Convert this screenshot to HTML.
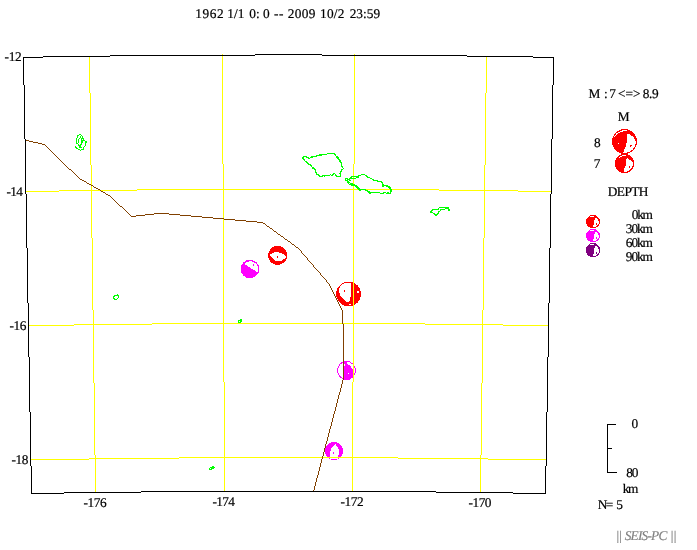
<!DOCTYPE html>
<html lang="en"><head><meta charset="utf-8"><title>SEIS-PC</title>
<style>
html,body{margin:0;padding:0;background:#fff;}
body{width:697px;height:550px;overflow:hidden;}
svg{display:block;}
</style></head><body>
<svg width="697" height="550" viewBox="0 0 697 550" shape-rendering="crispEdges">
<rect width="697" height="550" fill="#fff"/>
<circle cx="250" cy="269" r="9.2" fill="#ff00ff"/>
<polygon fill="#fff" points="244.43,263.91 244.71,263.61 245.01,263.33 245.33,263.06 245.66,262.81 246,262.57 246.35,262.36 246.71,262.16 247.09,261.98 247.47,261.82 247.86,261.69 248.26,261.57 248.66,261.47 249.06,261.4 249.47,261.34 249.89,261.31 250.3,261.3 250.71,261.31 251.13,261.34 251.54,261.4 251.94,261.47 252.34,261.57 252.74,261.69 253.13,261.82 253.51,261.98 253.89,262.16 254.25,262.36 254.6,262.57 254.94,262.81 255.27,263.06 255.59,263.33 255.89,263.61 256.17,263.91 256.44,264.23 256.69,264.56 256.93,264.9 257.14,265.25 257.34,265.61 257.52,265.99 257.68,266.37 257.81,266.76 257.93,267.16 258.03,267.56 258.1,267.96 258.16,268.37 258.19,268.79 258.2,269.2 258.19,269.61 258.16,270.03 258.1,270.44 258.03,270.84 257.93,271.24 257.81,271.64 257.68,272.03 257.52,272.41"/>
<rect x="253" y="264" width="1" height="2" fill="#ff00ff"/>
<circle cx="277.6" cy="255.4" r="9.6" fill="#ff0000"/>
<polygon fill="#fff" points="269.8,254.6 272,253.3 275,252.2 278.1,252.2 281.6,253.3 284.2,254.4 286.2,256.8 284.2,258.9 281.8,260.9 275.9,260.9 269.8,255.4"/>
<rect x="277" y="256" width="1" height="2" fill="#ff0000"/>
<circle cx="348.6" cy="294" r="12.4" fill="#ff0000"/>
<polygon fill="#fff" points="346.1,283.1 350.8,283.1 351,296.5 349.9,298.1 349.4,301.9 346.4,301.9 343.9,299.8 341.7,297.6 339.8,294.3 338.7,289.9 339.8,286.7 341.7,284.5 343.9,283.6"/>
<rect x="344" y="290" width="1" height="2" fill="#ff0000"/>
<rect x="357" y="291" width="2" height="2" fill="#fff"/>
<rect x="349" y="304" width="2" height="1" fill="#fff"/>
<circle cx="346.5" cy="370.4" r="9" fill="#fff" stroke="#ff00ff" stroke-width="1"/>
<polygon fill="#ff00ff" points="344,361 347,361 347,363.1 349.7,365.6 352.3,368.5 353,371.8 353,377.6 349,379.9 344,379.9"/>
<rect x="348" y="373" width="1" height="1" fill="#fff"/>
<rect x="344" y="364" width="1" height="2" fill="#fff"/>
<circle cx="334" cy="451" r="9.1" fill="#ff00ff"/>
<polygon fill="#fff" points="335.4,444 338,447.6 339.1,450.9 338.7,454.5 337.6,457.1 338,459 330.7,459 329.6,457.1 330,453.8 330.7,449.4 332.5,446.5"/>
<rect x="333" y="452" width="1" height="2" fill="#ff00ff"/>
<path fill="#ffff00" d="M222 54h1v1h-1zM354 54h1v1h-1zM222 55h1v1h-1zM354 55h1v1h-1zM89 56h1v1h-1zM222 56h1v1h-1zM354 56h1v1h-1zM486 56h1v1h-1zM89 57h1v1h-1zM222 57h1v1h-1zM354 57h1v1h-1zM486 57h1v1h-1zM89 58h1v1h-1zM222 58h1v1h-1zM354 58h1v1h-1zM486 58h1v1h-1zM89 59h1v1h-1zM222 59h1v1h-1zM354 59h1v1h-1zM486 59h1v1h-1zM89 60h1v1h-1zM222 60h1v1h-1zM354 60h1v1h-1zM486 60h1v1h-1zM89 61h1v1h-1zM222 61h1v1h-1zM354 61h1v1h-1zM486 61h1v1h-1zM89 62h1v1h-1zM222 62h1v1h-1zM354 62h1v1h-1zM486 62h1v1h-1zM89 63h1v1h-1zM222 63h1v1h-1zM354 63h1v1h-1zM486 63h1v1h-1zM89 64h1v1h-1zM222 64h1v1h-1zM354 64h1v1h-1zM486 64h1v1h-1zM89 65h1v1h-1zM222 65h1v1h-1zM354 65h1v1h-1zM486 65h1v1h-1zM89 66h1v1h-1zM222 66h1v1h-1zM354 66h1v1h-1zM486 66h1v1h-1zM89 67h1v1h-1zM222 67h1v1h-1zM354 67h1v1h-1zM486 67h1v1h-1zM89 68h1v1h-1zM222 68h1v1h-1zM354 68h1v1h-1zM486 68h1v1h-1zM89 69h1v1h-1zM222 69h1v1h-1zM354 69h1v1h-1zM486 69h1v1h-1zM89 70h1v1h-1zM222 70h1v1h-1zM354 70h1v1h-1zM486 70h1v1h-1zM89 71h1v1h-1zM222 71h1v1h-1zM354 71h1v1h-1zM486 71h1v1h-1zM89 72h1v1h-1zM222 72h1v1h-1zM354 72h1v1h-1zM486 72h1v1h-1zM89 73h1v1h-1zM222 73h1v1h-1zM354 73h1v1h-1zM486 73h1v1h-1zM89 74h1v1h-1zM222 74h1v1h-1zM354 74h1v1h-1zM486 74h1v1h-1zM89 75h1v1h-1zM222 75h1v1h-1zM354 75h1v1h-1zM486 75h1v1h-1zM89 76h1v1h-1zM222 76h1v1h-1zM354 76h1v1h-1zM486 76h1v1h-1zM89 77h1v1h-1zM222 77h1v1h-1zM354 77h1v1h-1zM486 77h1v1h-1zM89 78h1v1h-1zM222 78h1v1h-1zM354 78h1v1h-1zM486 78h1v1h-1zM89 79h1v1h-1zM222 79h1v1h-1zM354 79h1v1h-1zM486 79h1v1h-1zM89 80h1v1h-1zM222 80h1v1h-1zM354 80h1v1h-1zM486 80h1v1h-1zM89 81h1v1h-1zM222 81h1v1h-1zM354 81h1v1h-1zM486 81h1v1h-1zM89 82h1v1h-1zM222 82h1v1h-1zM354 82h1v1h-1zM486 82h1v1h-1zM89 83h1v1h-1zM222 83h1v1h-1zM354 83h1v1h-1zM486 83h1v1h-1zM89 84h1v1h-1zM222 84h1v1h-1zM354 84h1v1h-1zM486 84h1v1h-1zM89 85h1v1h-1zM222 85h1v1h-1zM354 85h1v1h-1zM486 85h1v1h-1zM89 86h1v1h-1zM222 86h1v1h-1zM354 86h1v1h-1zM486 86h1v1h-1zM89 87h1v1h-1zM222 87h1v1h-1zM354 87h1v1h-1zM486 87h1v1h-1zM89 88h1v1h-1zM222 88h1v1h-1zM354 88h1v1h-1zM486 88h1v1h-1zM89 89h1v1h-1zM222 89h1v1h-1zM354 89h1v1h-1zM486 89h1v1h-1zM89 90h1v1h-1zM222 90h1v1h-1zM354 90h1v1h-1zM486 90h1v1h-1zM89 91h1v1h-1zM222 91h1v1h-1zM354 91h1v1h-1zM486 91h1v1h-1zM89 92h1v1h-1zM222 92h1v1h-1zM354 92h1v1h-1zM486 92h1v1h-1zM90 93h1v1h-1zM222 93h1v1h-1zM354 93h1v1h-1zM485 93h1v1h-1zM90 94h1v1h-1zM222 94h1v1h-1zM354 94h1v1h-1zM485 94h1v1h-1zM90 95h1v1h-1zM222 95h1v1h-1zM354 95h1v1h-1zM485 95h1v1h-1zM90 96h1v1h-1zM222 96h1v1h-1zM354 96h1v1h-1zM485 96h1v1h-1zM90 97h1v1h-1zM222 97h1v1h-1zM354 97h1v1h-1zM485 97h1v1h-1zM90 98h1v1h-1zM222 98h1v1h-1zM354 98h1v1h-1zM485 98h1v1h-1zM90 99h1v1h-1zM222 99h1v1h-1zM354 99h1v1h-1zM485 99h1v1h-1zM90 100h1v1h-1zM222 100h1v1h-1zM354 100h1v1h-1zM485 100h1v1h-1zM90 101h1v1h-1zM222 101h1v1h-1zM354 101h1v1h-1zM485 101h1v1h-1zM90 102h1v1h-1zM222 102h1v1h-1zM354 102h1v1h-1zM485 102h1v1h-1zM90 103h1v1h-1zM222 103h1v1h-1zM354 103h1v1h-1zM485 103h1v1h-1zM90 104h1v1h-1zM222 104h1v1h-1zM354 104h1v1h-1zM485 104h1v1h-1zM90 105h1v1h-1zM222 105h1v1h-1zM354 105h1v1h-1zM485 105h1v1h-1zM90 106h1v1h-1zM222 106h1v1h-1zM354 106h1v1h-1zM485 106h1v1h-1zM90 107h1v1h-1zM222 107h1v1h-1zM354 107h1v1h-1zM485 107h1v1h-1zM90 108h1v1h-1zM222 108h1v1h-1zM354 108h1v1h-1zM485 108h1v1h-1zM90 109h1v1h-1zM222 109h1v1h-1zM354 109h1v1h-1zM485 109h1v1h-1zM90 110h1v1h-1zM222 110h1v1h-1zM354 110h1v1h-1zM485 110h1v1h-1zM90 111h1v1h-1zM222 111h1v1h-1zM354 111h1v1h-1zM485 111h1v1h-1zM90 112h1v1h-1zM222 112h1v1h-1zM354 112h1v1h-1zM485 112h1v1h-1zM90 113h1v1h-1zM222 113h1v1h-1zM354 113h1v1h-1zM485 113h1v1h-1zM90 114h1v1h-1zM222 114h1v1h-1zM354 114h1v1h-1zM485 114h1v1h-1zM90 115h1v1h-1zM222 115h1v1h-1zM354 115h1v1h-1zM485 115h1v1h-1zM90 116h1v1h-1zM222 116h1v1h-1zM354 116h1v1h-1zM485 116h1v1h-1zM90 117h1v1h-1zM222 117h1v1h-1zM354 117h1v1h-1zM485 117h1v1h-1zM90 118h1v1h-1zM222 118h1v1h-1zM354 118h1v1h-1zM485 118h1v1h-1zM90 119h1v1h-1zM222 119h1v1h-1zM354 119h1v1h-1zM485 119h1v1h-1zM90 120h1v1h-1zM222 120h1v1h-1zM354 120h1v1h-1zM485 120h1v1h-1zM90 121h1v1h-1zM222 121h1v1h-1zM354 121h1v1h-1zM485 121h1v1h-1zM90 122h1v1h-1zM222 122h1v1h-1zM354 122h1v1h-1zM485 122h1v1h-1zM90 123h1v1h-1zM222 123h1v1h-1zM354 123h1v1h-1zM485 123h1v1h-1zM90 124h1v1h-1zM222 124h1v1h-1zM354 124h1v1h-1zM485 124h1v1h-1zM90 125h1v1h-1zM222 125h1v1h-1zM354 125h1v1h-1zM485 125h1v1h-1zM90 126h1v1h-1zM222 126h1v1h-1zM354 126h1v1h-1zM485 126h1v1h-1zM90 127h1v1h-1zM222 127h1v1h-1zM354 127h1v1h-1zM485 127h1v1h-1zM90 128h1v1h-1zM222 128h1v1h-1zM354 128h1v1h-1zM485 128h1v1h-1zM90 129h1v1h-1zM222 129h1v1h-1zM354 129h1v1h-1zM485 129h1v1h-1zM90 130h1v1h-1zM222 130h1v1h-1zM354 130h1v1h-1zM485 130h1v1h-1zM90 131h1v1h-1zM222 131h1v1h-1zM354 131h1v1h-1zM485 131h1v1h-1zM90 132h1v1h-1zM222 132h1v1h-1zM354 132h1v1h-1zM485 132h1v1h-1zM90 133h1v1h-1zM222 133h1v1h-1zM354 133h1v1h-1zM485 133h1v1h-1zM90 134h1v1h-1zM222 134h1v1h-1zM354 134h1v1h-1zM485 134h1v1h-1zM90 135h1v1h-1zM222 135h1v1h-1zM354 135h1v1h-1zM485 135h1v1h-1zM90 136h1v1h-1zM222 136h1v1h-1zM354 136h1v1h-1zM485 136h1v1h-1zM90 137h1v1h-1zM222 137h1v1h-1zM354 137h1v1h-1zM485 137h1v1h-1zM90 138h1v1h-1zM222 138h1v1h-1zM354 138h1v1h-1zM485 138h1v1h-1zM90 139h1v1h-1zM222 139h1v1h-1zM354 139h1v1h-1zM485 139h1v1h-1zM90 140h1v1h-1zM222 140h1v1h-1zM354 140h1v1h-1zM485 140h1v1h-1zM90 141h1v1h-1zM222 141h1v1h-1zM354 141h1v1h-1zM485 141h1v1h-1zM90 142h1v1h-1zM222 142h1v1h-1zM354 142h1v1h-1zM485 142h1v1h-1zM90 143h1v1h-1zM222 143h1v1h-1zM354 143h1v1h-1zM485 143h1v1h-1zM90 144h1v1h-1zM222 144h1v1h-1zM354 144h1v1h-1zM485 144h1v1h-1zM90 145h1v1h-1zM222 145h1v1h-1zM354 145h1v1h-1zM485 145h1v1h-1zM90 146h1v1h-1zM222 146h1v1h-1zM354 146h1v1h-1zM485 146h1v1h-1zM90 147h1v1h-1zM222 147h1v1h-1zM354 147h1v1h-1zM485 147h1v1h-1zM90 148h1v1h-1zM222 148h1v1h-1zM354 148h1v1h-1zM485 148h1v1h-1zM90 149h1v1h-1zM222 149h1v1h-1zM354 149h1v1h-1zM485 149h1v1h-1zM90 150h1v1h-1zM222 150h1v1h-1zM354 150h1v1h-1zM485 150h1v1h-1zM90 151h1v1h-1zM222 151h1v1h-1zM354 151h1v1h-1zM485 151h1v1h-1zM90 152h1v1h-1zM222 152h1v1h-1zM354 152h1v1h-1zM485 152h1v1h-1zM90 153h1v1h-1zM222 153h1v1h-1zM354 153h1v1h-1zM485 153h1v1h-1zM90 154h1v1h-1zM222 154h1v1h-1zM354 154h1v1h-1zM485 154h1v1h-1zM90 155h1v1h-1zM222 155h1v1h-1zM354 155h1v1h-1zM485 155h1v1h-1zM90 156h1v1h-1zM222 156h1v1h-1zM354 156h1v1h-1zM485 156h1v1h-1zM90 157h1v1h-1zM222 157h1v1h-1zM354 157h1v1h-1zM485 157h1v1h-1zM90 158h1v1h-1zM222 158h1v1h-1zM354 158h1v1h-1zM485 158h1v1h-1zM90 159h1v1h-1zM222 159h1v1h-1zM354 159h1v1h-1zM485 159h1v1h-1zM90 160h1v1h-1zM222 160h1v1h-1zM354 160h1v1h-1zM485 160h1v1h-1zM90 161h1v1h-1zM222 161h1v1h-1zM354 161h1v1h-1zM485 161h1v1h-1zM90 162h1v1h-1zM222 162h1v1h-1zM354 162h1v1h-1zM485 162h1v1h-1zM90 163h1v1h-1zM222 163h1v1h-1zM354 163h1v1h-1zM485 163h1v1h-1zM90 164h1v1h-1zM223 164h1v1h-1zM353 164h1v1h-1zM485 164h1v1h-1zM91 165h1v1h-1zM223 165h1v1h-1zM353 165h1v1h-1zM484 165h1v1h-1zM91 166h1v1h-1zM223 166h1v1h-1zM353 166h1v1h-1zM484 166h1v1h-1zM91 167h1v1h-1zM223 167h1v1h-1zM353 167h1v1h-1zM484 167h1v1h-1zM91 168h1v1h-1zM223 168h1v1h-1zM353 168h1v1h-1zM484 168h1v1h-1zM91 169h1v1h-1zM223 169h1v1h-1zM353 169h1v1h-1zM484 169h1v1h-1zM91 170h1v1h-1zM223 170h1v1h-1zM353 170h1v1h-1zM484 170h1v1h-1zM91 171h1v1h-1zM223 171h1v1h-1zM353 171h1v1h-1zM484 171h1v1h-1zM91 172h1v1h-1zM223 172h1v1h-1zM353 172h1v1h-1zM484 172h1v1h-1zM91 173h1v1h-1zM223 173h1v1h-1zM353 173h1v1h-1zM484 173h1v1h-1zM91 174h1v1h-1zM223 174h1v1h-1zM353 174h1v1h-1zM484 174h1v1h-1zM91 175h1v1h-1zM223 175h1v1h-1zM353 175h1v1h-1zM484 175h1v1h-1zM91 176h1v1h-1zM223 176h1v1h-1zM353 176h1v1h-1zM484 176h1v1h-1zM91 177h1v1h-1zM223 177h1v1h-1zM353 177h1v1h-1zM484 177h1v1h-1zM91 178h1v1h-1zM223 178h1v1h-1zM353 178h1v1h-1zM484 178h1v1h-1zM91 179h1v1h-1zM223 179h1v1h-1zM353 179h1v1h-1zM484 179h1v1h-1zM91 180h1v1h-1zM223 180h1v1h-1zM353 180h1v1h-1zM484 180h1v1h-1zM91 181h1v1h-1zM223 181h1v1h-1zM353 181h1v1h-1zM484 181h1v1h-1zM91 182h1v1h-1zM223 182h1v1h-1zM353 182h1v1h-1zM484 182h1v1h-1zM91 183h1v1h-1zM223 183h1v1h-1zM353 183h1v1h-1zM484 183h1v1h-1zM91 184h1v1h-1zM223 184h1v1h-1zM353 184h1v1h-1zM484 184h1v1h-1zM91 185h1v1h-1zM223 185h1v1h-1zM353 185h1v1h-1zM484 185h1v1h-1zM91 186h1v1h-1zM223 186h1v1h-1zM353 186h1v1h-1zM484 186h1v1h-1zM91 187h1v1h-1zM223 187h1v1h-1zM353 187h1v1h-1zM484 187h1v1h-1zM91 188h1v1h-1zM223 188h1v1h-1zM353 188h1v1h-1zM484 188h1v1h-1zM91 189h1v1h-1zM137 189h302v1h-302zM484 189h1v1h-1zM59 190h78v1h-78zM223 190h1v1h-1zM353 190h1v1h-1zM439 190h79v1h-79zM26 191h33v1h-33zM91 191h1v1h-1zM223 191h1v1h-1zM353 191h1v1h-1zM484 191h1v1h-1zM518 191h33v1h-33zM91 192h1v1h-1zM223 192h1v1h-1zM353 192h1v1h-1zM484 192h1v1h-1zM91 193h1v1h-1zM223 193h1v1h-1zM353 193h1v1h-1zM484 193h1v1h-1zM91 194h1v1h-1zM223 194h1v1h-1zM353 194h1v1h-1zM484 194h1v1h-1zM91 195h1v1h-1zM223 195h1v1h-1zM353 195h1v1h-1zM484 195h1v1h-1zM91 196h1v1h-1zM223 196h1v1h-1zM353 196h1v1h-1zM484 196h1v1h-1zM91 197h1v1h-1zM223 197h1v1h-1zM353 197h1v1h-1zM484 197h1v1h-1zM91 198h1v1h-1zM223 198h1v1h-1zM353 198h1v1h-1zM484 198h1v1h-1zM91 199h1v1h-1zM223 199h1v1h-1zM353 199h1v1h-1zM484 199h1v1h-1zM91 200h1v1h-1zM223 200h1v1h-1zM353 200h1v1h-1zM484 200h1v1h-1zM91 201h1v1h-1zM223 201h1v1h-1zM353 201h1v1h-1zM484 201h1v1h-1zM91 202h1v1h-1zM223 202h1v1h-1zM353 202h1v1h-1zM484 202h1v1h-1zM91 203h1v1h-1zM223 203h1v1h-1zM353 203h1v1h-1zM484 203h1v1h-1zM91 204h1v1h-1zM223 204h1v1h-1zM353 204h1v1h-1zM484 204h1v1h-1zM91 205h1v1h-1zM223 205h1v1h-1zM353 205h1v1h-1zM484 205h1v1h-1zM91 206h1v1h-1zM223 206h1v1h-1zM353 206h1v1h-1zM484 206h1v1h-1zM91 207h1v1h-1zM223 207h1v1h-1zM353 207h1v1h-1zM484 207h1v1h-1zM91 208h1v1h-1zM223 208h1v1h-1zM353 208h1v1h-1zM484 208h1v1h-1zM91 209h1v1h-1zM223 209h1v1h-1zM353 209h1v1h-1zM484 209h1v1h-1zM91 210h1v1h-1zM223 210h1v1h-1zM353 210h1v1h-1zM484 210h1v1h-1zM91 211h1v1h-1zM223 211h1v1h-1zM353 211h1v1h-1zM484 211h1v1h-1zM91 212h1v1h-1zM223 212h1v1h-1zM353 212h1v1h-1zM484 212h1v1h-1zM91 213h1v1h-1zM223 213h1v1h-1zM353 213h1v1h-1zM484 213h1v1h-1zM91 214h1v1h-1zM223 214h1v1h-1zM353 214h1v1h-1zM484 214h1v1h-1zM91 215h1v1h-1zM223 215h1v1h-1zM353 215h1v1h-1zM484 215h1v1h-1zM91 216h1v1h-1zM223 216h1v1h-1zM353 216h1v1h-1zM484 216h1v1h-1zM91 217h1v1h-1zM223 217h1v1h-1zM353 217h1v1h-1zM484 217h1v1h-1zM91 218h1v1h-1zM223 218h1v1h-1zM353 218h1v1h-1zM484 218h1v1h-1zM91 219h1v1h-1zM223 219h1v1h-1zM353 219h1v1h-1zM484 219h1v1h-1zM91 220h1v1h-1zM223 220h1v1h-1zM353 220h1v1h-1zM484 220h1v1h-1zM91 221h1v1h-1zM223 221h1v1h-1zM353 221h1v1h-1zM484 221h1v1h-1zM91 222h1v1h-1zM223 222h1v1h-1zM353 222h1v1h-1zM484 222h1v1h-1zM91 223h1v1h-1zM223 223h1v1h-1zM353 223h1v1h-1zM484 223h1v1h-1zM91 224h1v1h-1zM223 224h1v1h-1zM353 224h1v1h-1zM484 224h1v1h-1zM91 225h1v1h-1zM223 225h1v1h-1zM353 225h1v1h-1zM484 225h1v1h-1zM91 226h1v1h-1zM223 226h1v1h-1zM353 226h1v1h-1zM484 226h1v1h-1zM91 227h1v1h-1zM223 227h1v1h-1zM353 227h1v1h-1zM484 227h1v1h-1zM91 228h1v1h-1zM223 228h1v1h-1zM353 228h1v1h-1zM484 228h1v1h-1zM91 229h1v1h-1zM223 229h1v1h-1zM353 229h1v1h-1zM484 229h1v1h-1zM91 230h1v1h-1zM223 230h1v1h-1zM353 230h1v1h-1zM484 230h1v1h-1zM91 231h1v1h-1zM223 231h1v1h-1zM353 231h1v1h-1zM484 231h1v1h-1zM91 232h1v1h-1zM223 232h1v1h-1zM353 232h1v1h-1zM484 232h1v1h-1zM91 233h1v1h-1zM223 233h1v1h-1zM353 233h1v1h-1zM484 233h1v1h-1zM91 234h1v1h-1zM223 234h1v1h-1zM353 234h1v1h-1zM484 234h1v1h-1zM91 235h1v1h-1zM223 235h1v1h-1zM353 235h1v1h-1zM484 235h1v1h-1zM91 236h1v1h-1zM223 236h1v1h-1zM353 236h1v1h-1zM484 236h1v1h-1zM91 237h1v1h-1zM223 237h1v1h-1zM353 237h1v1h-1zM484 237h1v1h-1zM92 238h1v1h-1zM223 238h1v1h-1zM353 238h1v1h-1zM483 238h1v1h-1zM92 239h1v1h-1zM223 239h1v1h-1zM353 239h1v1h-1zM483 239h1v1h-1zM92 240h1v1h-1zM223 240h1v1h-1zM353 240h1v1h-1zM483 240h1v1h-1zM92 241h1v1h-1zM223 241h1v1h-1zM353 241h1v1h-1zM483 241h1v1h-1zM92 242h1v1h-1zM223 242h1v1h-1zM353 242h1v1h-1zM483 242h1v1h-1zM92 243h1v1h-1zM223 243h1v1h-1zM353 243h1v1h-1zM483 243h1v1h-1zM92 244h1v1h-1zM223 244h1v1h-1zM353 244h1v1h-1zM483 244h1v1h-1zM92 245h1v1h-1zM223 245h1v1h-1zM353 245h1v1h-1zM483 245h1v1h-1zM92 246h1v1h-1zM223 246h1v1h-1zM353 246h1v1h-1zM483 246h1v1h-1zM92 247h1v1h-1zM223 247h1v1h-1zM353 247h1v1h-1zM483 247h1v1h-1zM92 248h1v1h-1zM223 248h1v1h-1zM353 248h1v1h-1zM483 248h1v1h-1zM92 249h1v1h-1zM223 249h1v1h-1zM353 249h1v1h-1zM483 249h1v1h-1zM92 250h1v1h-1zM223 250h1v1h-1zM353 250h1v1h-1zM483 250h1v1h-1zM92 251h1v1h-1zM223 251h1v1h-1zM353 251h1v1h-1zM483 251h1v1h-1zM92 252h1v1h-1zM223 252h1v1h-1zM353 252h1v1h-1zM483 252h1v1h-1zM92 253h1v1h-1zM223 253h1v1h-1zM353 253h1v1h-1zM483 253h1v1h-1zM92 254h1v1h-1zM223 254h1v1h-1zM353 254h1v1h-1zM483 254h1v1h-1zM92 255h1v1h-1zM223 255h1v1h-1zM353 255h1v1h-1zM483 255h1v1h-1zM92 256h1v1h-1zM223 256h1v1h-1zM353 256h1v1h-1zM483 256h1v1h-1zM92 257h1v1h-1zM223 257h1v1h-1zM353 257h1v1h-1zM483 257h1v1h-1zM92 258h1v1h-1zM223 258h1v1h-1zM353 258h1v1h-1zM483 258h1v1h-1zM92 259h1v1h-1zM223 259h1v1h-1zM353 259h1v1h-1zM483 259h1v1h-1zM92 260h1v1h-1zM223 260h1v1h-1zM353 260h1v1h-1zM483 260h1v1h-1zM92 261h1v1h-1zM223 261h1v1h-1zM353 261h1v1h-1zM483 261h1v1h-1zM92 262h1v1h-1zM223 262h1v1h-1zM353 262h1v1h-1zM483 262h1v1h-1zM92 263h1v1h-1zM223 263h1v1h-1zM353 263h1v1h-1zM483 263h1v1h-1zM92 264h1v1h-1zM223 264h1v1h-1zM353 264h1v1h-1zM483 264h1v1h-1zM92 265h1v1h-1zM223 265h1v1h-1zM353 265h1v1h-1zM483 265h1v1h-1zM92 266h1v1h-1zM223 266h1v1h-1zM353 266h1v1h-1zM483 266h1v1h-1zM92 267h1v1h-1zM223 267h1v1h-1zM353 267h1v1h-1zM483 267h1v1h-1zM92 268h1v1h-1zM223 268h1v1h-1zM353 268h1v1h-1zM483 268h1v1h-1zM92 269h1v1h-1zM223 269h1v1h-1zM353 269h1v1h-1zM483 269h1v1h-1zM92 270h1v1h-1zM223 270h1v1h-1zM353 270h1v1h-1zM483 270h1v1h-1zM92 271h1v1h-1zM223 271h1v1h-1zM353 271h1v1h-1zM483 271h1v1h-1zM92 272h1v1h-1zM223 272h1v1h-1zM353 272h1v1h-1zM483 272h1v1h-1zM92 273h1v1h-1zM223 273h1v1h-1zM353 273h1v1h-1zM483 273h1v1h-1zM92 274h1v1h-1zM223 274h1v1h-1zM353 274h1v1h-1zM483 274h1v1h-1zM92 275h1v1h-1zM223 275h1v1h-1zM353 275h1v1h-1zM483 275h1v1h-1zM92 276h1v1h-1zM223 276h1v1h-1zM353 276h1v1h-1zM483 276h1v1h-1zM92 277h1v1h-1zM223 277h1v1h-1zM353 277h1v1h-1zM483 277h1v1h-1zM92 278h1v1h-1zM223 278h1v1h-1zM353 278h1v1h-1zM483 278h1v1h-1zM92 279h1v1h-1zM223 279h1v1h-1zM353 279h1v1h-1zM483 279h1v1h-1zM92 280h1v1h-1zM223 280h1v1h-1zM353 280h1v1h-1zM483 280h1v1h-1zM92 281h1v1h-1zM223 281h1v1h-1zM353 281h1v1h-1zM483 281h1v1h-1zM92 282h1v1h-1zM223 282h1v1h-1zM353 282h1v1h-1zM483 282h1v1h-1zM92 283h1v1h-1zM223 283h1v1h-1zM353 283h1v1h-1zM483 283h1v1h-1zM92 284h1v1h-1zM223 284h1v1h-1zM353 284h1v1h-1zM483 284h1v1h-1zM92 285h1v1h-1zM223 285h1v1h-1zM353 285h1v1h-1zM483 285h1v1h-1zM92 286h1v1h-1zM223 286h1v1h-1zM353 286h1v1h-1zM483 286h1v1h-1zM92 287h1v1h-1zM223 287h1v1h-1zM353 287h1v1h-1zM483 287h1v1h-1zM92 288h1v1h-1zM223 288h1v1h-1zM353 288h1v1h-1zM483 288h1v1h-1zM92 289h1v1h-1zM223 289h1v1h-1zM353 289h1v1h-1zM483 289h1v1h-1zM92 290h1v1h-1zM223 290h1v1h-1zM353 290h1v1h-1zM483 290h1v1h-1zM92 291h1v1h-1zM223 291h1v1h-1zM353 291h1v1h-1zM483 291h1v1h-1zM92 292h1v1h-1zM223 292h1v1h-1zM353 292h1v1h-1zM483 292h1v1h-1zM92 293h1v1h-1zM223 293h1v1h-1zM353 293h1v1h-1zM483 293h1v1h-1zM92 294h1v1h-1zM223 294h1v1h-1zM353 294h1v1h-1zM483 294h1v1h-1zM92 295h1v1h-1zM223 295h1v1h-1zM353 295h1v1h-1zM483 295h1v1h-1zM92 296h1v1h-1zM223 296h1v1h-1zM353 296h1v1h-1zM483 296h1v1h-1zM92 297h1v1h-1zM223 297h1v1h-1zM353 297h1v1h-1zM483 297h1v1h-1zM92 298h1v1h-1zM223 298h1v1h-1zM353 298h1v1h-1zM483 298h1v1h-1zM92 299h1v1h-1zM223 299h1v1h-1zM353 299h1v1h-1zM483 299h1v1h-1zM92 300h1v1h-1zM223 300h1v1h-1zM353 300h1v1h-1zM483 300h1v1h-1zM92 301h1v1h-1zM223 301h1v1h-1zM353 301h1v1h-1zM483 301h1v1h-1zM92 302h1v1h-1zM223 302h1v1h-1zM353 302h1v1h-1zM483 302h1v1h-1zM92 303h1v1h-1zM223 303h1v1h-1zM353 303h1v1h-1zM483 303h1v1h-1zM92 304h1v1h-1zM223 304h1v1h-1zM353 304h1v1h-1zM483 304h1v1h-1zM92 305h1v1h-1zM223 305h1v1h-1zM353 305h1v1h-1zM483 305h1v1h-1zM92 306h1v1h-1zM223 306h1v1h-1zM353 306h1v1h-1zM483 306h1v1h-1zM92 307h1v1h-1zM223 307h1v1h-1zM353 307h1v1h-1zM483 307h1v1h-1zM92 308h1v1h-1zM223 308h1v1h-1zM353 308h1v1h-1zM483 308h1v1h-1zM92 309h1v1h-1zM223 309h1v1h-1zM353 309h1v1h-1zM483 309h1v1h-1zM93 310h1v1h-1zM223 310h1v1h-1zM353 310h1v1h-1zM482 310h1v1h-1zM93 311h1v1h-1zM223 311h1v1h-1zM353 311h1v1h-1zM482 311h1v1h-1zM93 312h1v1h-1zM223 312h1v1h-1zM353 312h1v1h-1zM482 312h1v1h-1zM93 313h1v1h-1zM223 313h1v1h-1zM353 313h1v1h-1zM482 313h1v1h-1zM93 314h1v1h-1zM223 314h1v1h-1zM353 314h1v1h-1zM482 314h1v1h-1zM93 315h1v1h-1zM223 315h1v1h-1zM353 315h1v1h-1zM482 315h1v1h-1zM93 316h1v1h-1zM223 316h1v1h-1zM353 316h1v1h-1zM482 316h1v1h-1zM93 317h1v1h-1zM223 317h1v1h-1zM353 317h1v1h-1zM482 317h1v1h-1zM93 318h1v1h-1zM223 318h1v1h-1zM353 318h1v1h-1zM482 318h1v1h-1zM93 319h1v1h-1zM223 319h1v1h-1zM353 319h1v1h-1zM482 319h1v1h-1zM93 320h1v1h-1zM223 320h1v1h-1zM353 320h1v1h-1zM482 320h1v1h-1zM93 321h1v1h-1zM223 321h1v1h-1zM353 321h1v1h-1zM482 321h1v1h-1zM93 322h1v1h-1zM223 322h1v1h-1zM353 322h1v1h-1zM482 322h1v1h-1zM93 323h1v1h-1zM152 323h273v1h-273zM482 323h1v1h-1zM74 324h78v1h-78zM223 324h1v1h-1zM353 324h1v1h-1zM425 324h78v1h-78zM28 325h46v1h-46zM93 325h1v1h-1zM223 325h1v1h-1zM353 325h1v1h-1zM482 325h1v1h-1zM503 325h46v1h-46zM93 326h1v1h-1zM223 326h1v1h-1zM353 326h1v1h-1zM482 326h1v1h-1zM93 327h1v1h-1zM223 327h1v1h-1zM353 327h1v1h-1zM482 327h1v1h-1zM93 328h1v1h-1zM223 328h1v1h-1zM353 328h1v1h-1zM482 328h1v1h-1zM93 329h1v1h-1zM223 329h1v1h-1zM353 329h1v1h-1zM482 329h1v1h-1zM93 330h1v1h-1zM223 330h1v1h-1zM353 330h1v1h-1zM482 330h1v1h-1zM93 331h1v1h-1zM223 331h1v1h-1zM353 331h1v1h-1zM482 331h1v1h-1zM93 332h1v1h-1zM223 332h1v1h-1zM353 332h1v1h-1zM482 332h1v1h-1zM93 333h1v1h-1zM223 333h1v1h-1zM353 333h1v1h-1zM482 333h1v1h-1zM93 334h1v1h-1zM223 334h1v1h-1zM353 334h1v1h-1zM482 334h1v1h-1zM93 335h1v1h-1zM223 335h1v1h-1zM353 335h1v1h-1zM482 335h1v1h-1zM93 336h1v1h-1zM223 336h1v1h-1zM353 336h1v1h-1zM482 336h1v1h-1zM93 337h1v1h-1zM223 337h1v1h-1zM353 337h1v1h-1zM482 337h1v1h-1zM93 338h1v1h-1zM223 338h1v1h-1zM353 338h1v1h-1zM482 338h1v1h-1zM93 339h1v1h-1zM223 339h1v1h-1zM353 339h1v1h-1zM482 339h1v1h-1zM93 340h1v1h-1zM223 340h1v1h-1zM353 340h1v1h-1zM482 340h1v1h-1zM93 341h1v1h-1zM223 341h1v1h-1zM353 341h1v1h-1zM482 341h1v1h-1zM93 342h1v1h-1zM223 342h1v1h-1zM353 342h1v1h-1zM482 342h1v1h-1zM93 343h1v1h-1zM223 343h1v1h-1zM353 343h1v1h-1zM482 343h1v1h-1zM93 344h1v1h-1zM223 344h1v1h-1zM353 344h1v1h-1zM482 344h1v1h-1zM93 345h1v1h-1zM223 345h1v1h-1zM353 345h1v1h-1zM482 345h1v1h-1zM93 346h1v1h-1zM223 346h1v1h-1zM353 346h1v1h-1zM482 346h1v1h-1zM93 347h1v1h-1zM223 347h1v1h-1zM353 347h1v1h-1zM482 347h1v1h-1zM93 348h1v1h-1zM223 348h1v1h-1zM353 348h1v1h-1zM482 348h1v1h-1zM93 349h1v1h-1zM223 349h1v1h-1zM353 349h1v1h-1zM482 349h1v1h-1zM93 350h1v1h-1zM223 350h1v1h-1zM353 350h1v1h-1zM482 350h1v1h-1zM93 351h1v1h-1zM223 351h1v1h-1zM353 351h1v1h-1zM482 351h1v1h-1zM93 352h1v1h-1zM223 352h1v1h-1zM353 352h1v1h-1zM482 352h1v1h-1zM93 353h1v1h-1zM223 353h1v1h-1zM353 353h1v1h-1zM482 353h1v1h-1zM93 354h1v1h-1zM223 354h1v1h-1zM353 354h1v1h-1zM482 354h1v1h-1zM93 355h1v1h-1zM223 355h1v1h-1zM353 355h1v1h-1zM482 355h1v1h-1zM93 356h1v1h-1zM223 356h1v1h-1zM353 356h1v1h-1zM482 356h1v1h-1zM93 357h1v1h-1zM223 357h1v1h-1zM353 357h1v1h-1zM482 357h1v1h-1zM93 358h1v1h-1zM223 358h1v1h-1zM353 358h1v1h-1zM482 358h1v1h-1zM93 359h1v1h-1zM223 359h1v1h-1zM353 359h1v1h-1zM482 359h1v1h-1zM93 360h1v1h-1zM223 360h1v1h-1zM353 360h1v1h-1zM482 360h1v1h-1zM93 361h1v1h-1zM223 361h1v1h-1zM353 361h1v1h-1zM482 361h1v1h-1zM93 362h1v1h-1zM223 362h1v1h-1zM353 362h1v1h-1zM482 362h1v1h-1zM93 363h1v1h-1zM223 363h1v1h-1zM353 363h1v1h-1zM482 363h1v1h-1zM93 364h1v1h-1zM223 364h1v1h-1zM353 364h1v1h-1zM482 364h1v1h-1zM93 365h1v1h-1zM223 365h1v1h-1zM353 365h1v1h-1zM482 365h1v1h-1zM93 366h1v1h-1zM223 366h1v1h-1zM353 366h1v1h-1zM482 366h1v1h-1zM93 367h1v1h-1zM223 367h1v1h-1zM353 367h1v1h-1zM482 367h1v1h-1zM93 368h1v1h-1zM223 368h1v1h-1zM353 368h1v1h-1zM482 368h1v1h-1zM93 369h1v1h-1zM223 369h1v1h-1zM353 369h1v1h-1zM482 369h1v1h-1zM93 370h1v1h-1zM223 370h1v1h-1zM353 370h1v1h-1zM482 370h1v1h-1zM93 371h1v1h-1zM223 371h1v1h-1zM353 371h1v1h-1zM482 371h1v1h-1zM93 372h1v1h-1zM223 372h1v1h-1zM353 372h1v1h-1zM482 372h1v1h-1zM93 373h1v1h-1zM223 373h1v1h-1zM353 373h1v1h-1zM482 373h1v1h-1zM93 374h1v1h-1zM223 374h1v1h-1zM353 374h1v1h-1zM482 374h1v1h-1zM93 375h1v1h-1zM223 375h1v1h-1zM353 375h1v1h-1zM482 375h1v1h-1zM93 376h1v1h-1zM223 376h1v1h-1zM353 376h1v1h-1zM482 376h1v1h-1zM93 377h1v1h-1zM223 377h1v1h-1zM353 377h1v1h-1zM482 377h1v1h-1zM93 378h1v1h-1zM223 378h1v1h-1zM353 378h1v1h-1zM482 378h1v1h-1zM93 379h1v1h-1zM223 379h1v1h-1zM353 379h1v1h-1zM482 379h1v1h-1zM93 380h1v1h-1zM223 380h1v1h-1zM353 380h1v1h-1zM482 380h1v1h-1zM93 381h1v1h-1zM223 381h1v1h-1zM353 381h1v1h-1zM482 381h1v1h-1zM93 382h1v1h-1zM224 382h1v1h-1zM352 382h1v1h-1zM482 382h1v1h-1zM94 383h1v1h-1zM224 383h1v1h-1zM352 383h1v1h-1zM481 383h1v1h-1zM94 384h1v1h-1zM224 384h1v1h-1zM352 384h1v1h-1zM481 384h1v1h-1zM94 385h1v1h-1zM224 385h1v1h-1zM352 385h1v1h-1zM481 385h1v1h-1zM94 386h1v1h-1zM224 386h1v1h-1zM352 386h1v1h-1zM481 386h1v1h-1zM94 387h1v1h-1zM224 387h1v1h-1zM352 387h1v1h-1zM481 387h1v1h-1zM94 388h1v1h-1zM224 388h1v1h-1zM352 388h1v1h-1zM481 388h1v1h-1zM94 389h1v1h-1zM224 389h1v1h-1zM352 389h1v1h-1zM481 389h1v1h-1zM94 390h1v1h-1zM224 390h1v1h-1zM352 390h1v1h-1zM481 390h1v1h-1zM94 391h1v1h-1zM224 391h1v1h-1zM352 391h1v1h-1zM481 391h1v1h-1zM94 392h1v1h-1zM224 392h1v1h-1zM352 392h1v1h-1zM481 392h1v1h-1zM94 393h1v1h-1zM224 393h1v1h-1zM352 393h1v1h-1zM481 393h1v1h-1zM94 394h1v1h-1zM224 394h1v1h-1zM352 394h1v1h-1zM481 394h1v1h-1zM94 395h1v1h-1zM224 395h1v1h-1zM352 395h1v1h-1zM481 395h1v1h-1zM94 396h1v1h-1zM224 396h1v1h-1zM352 396h1v1h-1zM481 396h1v1h-1zM94 397h1v1h-1zM224 397h1v1h-1zM352 397h1v1h-1zM481 397h1v1h-1zM94 398h1v1h-1zM224 398h1v1h-1zM352 398h1v1h-1zM481 398h1v1h-1zM94 399h1v1h-1zM224 399h1v1h-1zM352 399h1v1h-1zM481 399h1v1h-1zM94 400h1v1h-1zM224 400h1v1h-1zM352 400h1v1h-1zM481 400h1v1h-1zM94 401h1v1h-1zM224 401h1v1h-1zM352 401h1v1h-1zM481 401h1v1h-1zM94 402h1v1h-1zM224 402h1v1h-1zM352 402h1v1h-1zM481 402h1v1h-1zM94 403h1v1h-1zM224 403h1v1h-1zM352 403h1v1h-1zM481 403h1v1h-1zM94 404h1v1h-1zM224 404h1v1h-1zM352 404h1v1h-1zM481 404h1v1h-1zM94 405h1v1h-1zM224 405h1v1h-1zM352 405h1v1h-1zM481 405h1v1h-1zM94 406h1v1h-1zM224 406h1v1h-1zM352 406h1v1h-1zM481 406h1v1h-1zM94 407h1v1h-1zM224 407h1v1h-1zM352 407h1v1h-1zM481 407h1v1h-1zM94 408h1v1h-1zM224 408h1v1h-1zM352 408h1v1h-1zM481 408h1v1h-1zM94 409h1v1h-1zM224 409h1v1h-1zM352 409h1v1h-1zM481 409h1v1h-1zM94 410h1v1h-1zM224 410h1v1h-1zM352 410h1v1h-1zM481 410h1v1h-1zM94 411h1v1h-1zM224 411h1v1h-1zM352 411h1v1h-1zM481 411h1v1h-1zM94 412h1v1h-1zM224 412h1v1h-1zM352 412h1v1h-1zM481 412h1v1h-1zM94 413h1v1h-1zM224 413h1v1h-1zM352 413h1v1h-1zM481 413h1v1h-1zM94 414h1v1h-1zM224 414h1v1h-1zM352 414h1v1h-1zM481 414h1v1h-1zM94 415h1v1h-1zM224 415h1v1h-1zM352 415h1v1h-1zM481 415h1v1h-1zM94 416h1v1h-1zM224 416h1v1h-1zM352 416h1v1h-1zM481 416h1v1h-1zM94 417h1v1h-1zM224 417h1v1h-1zM352 417h1v1h-1zM481 417h1v1h-1zM94 418h1v1h-1zM224 418h1v1h-1zM352 418h1v1h-1zM481 418h1v1h-1zM94 419h1v1h-1zM224 419h1v1h-1zM352 419h1v1h-1zM481 419h1v1h-1zM94 420h1v1h-1zM224 420h1v1h-1zM352 420h1v1h-1zM481 420h1v1h-1zM94 421h1v1h-1zM224 421h1v1h-1zM352 421h1v1h-1zM481 421h1v1h-1zM94 422h1v1h-1zM224 422h1v1h-1zM352 422h1v1h-1zM481 422h1v1h-1zM94 423h1v1h-1zM224 423h1v1h-1zM352 423h1v1h-1zM481 423h1v1h-1zM94 424h1v1h-1zM224 424h1v1h-1zM352 424h1v1h-1zM481 424h1v1h-1zM94 425h1v1h-1zM224 425h1v1h-1zM352 425h1v1h-1zM481 425h1v1h-1zM94 426h1v1h-1zM224 426h1v1h-1zM352 426h1v1h-1zM481 426h1v1h-1zM94 427h1v1h-1zM224 427h1v1h-1zM352 427h1v1h-1zM481 427h1v1h-1zM94 428h1v1h-1zM224 428h1v1h-1zM352 428h1v1h-1zM481 428h1v1h-1zM94 429h1v1h-1zM224 429h1v1h-1zM352 429h1v1h-1zM481 429h1v1h-1zM94 430h1v1h-1zM224 430h1v1h-1zM352 430h1v1h-1zM481 430h1v1h-1zM94 431h1v1h-1zM224 431h1v1h-1zM352 431h1v1h-1zM481 431h1v1h-1zM94 432h1v1h-1zM224 432h1v1h-1zM352 432h1v1h-1zM481 432h1v1h-1zM94 433h1v1h-1zM224 433h1v1h-1zM352 433h1v1h-1zM481 433h1v1h-1zM94 434h1v1h-1zM224 434h1v1h-1zM352 434h1v1h-1zM481 434h1v1h-1zM94 435h1v1h-1zM224 435h1v1h-1zM352 435h1v1h-1zM481 435h1v1h-1zM94 436h1v1h-1zM224 436h1v1h-1zM352 436h1v1h-1zM481 436h1v1h-1zM94 437h1v1h-1zM224 437h1v1h-1zM352 437h1v1h-1zM481 437h1v1h-1zM94 438h1v1h-1zM224 438h1v1h-1zM352 438h1v1h-1zM481 438h1v1h-1zM94 439h1v1h-1zM224 439h1v1h-1zM352 439h1v1h-1zM481 439h1v1h-1zM94 440h1v1h-1zM224 440h1v1h-1zM352 440h1v1h-1zM481 440h1v1h-1zM94 441h1v1h-1zM224 441h1v1h-1zM352 441h1v1h-1zM481 441h1v1h-1zM94 442h1v1h-1zM224 442h1v1h-1zM352 442h1v1h-1zM481 442h1v1h-1zM94 443h1v1h-1zM224 443h1v1h-1zM352 443h1v1h-1zM481 443h1v1h-1zM94 444h1v1h-1zM224 444h1v1h-1zM352 444h1v1h-1zM481 444h1v1h-1zM94 445h1v1h-1zM224 445h1v1h-1zM352 445h1v1h-1zM481 445h1v1h-1zM94 446h1v1h-1zM224 446h1v1h-1zM352 446h1v1h-1zM481 446h1v1h-1zM94 447h1v1h-1zM224 447h1v1h-1zM352 447h1v1h-1zM481 447h1v1h-1zM94 448h1v1h-1zM224 448h1v1h-1zM352 448h1v1h-1zM481 448h1v1h-1zM94 449h1v1h-1zM224 449h1v1h-1zM352 449h1v1h-1zM481 449h1v1h-1zM94 450h1v1h-1zM224 450h1v1h-1zM352 450h1v1h-1zM481 450h1v1h-1zM94 451h1v1h-1zM224 451h1v1h-1zM352 451h1v1h-1zM481 451h1v1h-1zM94 452h1v1h-1zM224 452h1v1h-1zM352 452h1v1h-1zM481 452h1v1h-1zM94 453h1v1h-1zM224 453h1v1h-1zM352 453h1v1h-1zM481 453h1v1h-1zM94 454h1v1h-1zM224 454h1v1h-1zM352 454h1v1h-1zM481 454h1v1h-1zM95 455h1v1h-1zM224 455h1v1h-1zM352 455h1v1h-1zM480 455h1v1h-1zM95 456h1v1h-1zM224 456h1v1h-1zM352 456h1v1h-1zM480 456h1v1h-1zM95 457h1v1h-1zM179 457h219v1h-219zM480 457h1v1h-1zM89 458h90v1h-90zM224 458h1v1h-1zM352 458h1v1h-1zM398 458h90v1h-90zM31 459h58v1h-58zM95 459h1v1h-1zM224 459h1v1h-1zM352 459h1v1h-1zM480 459h1v1h-1zM488 459h58v1h-58zM95 460h1v1h-1zM224 460h1v1h-1zM352 460h1v1h-1zM480 460h1v1h-1zM95 461h1v1h-1zM224 461h1v1h-1zM352 461h1v1h-1zM480 461h1v1h-1zM95 462h1v1h-1zM224 462h1v1h-1zM352 462h1v1h-1zM480 462h1v1h-1zM95 463h1v1h-1zM224 463h1v1h-1zM352 463h1v1h-1zM480 463h1v1h-1zM95 464h1v1h-1zM224 464h1v1h-1zM352 464h1v1h-1zM480 464h1v1h-1zM95 465h1v1h-1zM224 465h1v1h-1zM352 465h1v1h-1zM480 465h1v1h-1zM95 466h1v1h-1zM224 466h1v1h-1zM352 466h1v1h-1zM480 466h1v1h-1zM95 467h1v1h-1zM224 467h1v1h-1zM352 467h1v1h-1zM480 467h1v1h-1zM95 468h1v1h-1zM224 468h1v1h-1zM352 468h1v1h-1zM480 468h1v1h-1zM95 469h1v1h-1zM224 469h1v1h-1zM352 469h1v1h-1zM480 469h1v1h-1zM95 470h1v1h-1zM224 470h1v1h-1zM352 470h1v1h-1zM480 470h1v1h-1zM95 471h1v1h-1zM224 471h1v1h-1zM352 471h1v1h-1zM480 471h1v1h-1zM95 472h1v1h-1zM224 472h1v1h-1zM352 472h1v1h-1zM480 472h1v1h-1zM95 473h1v1h-1zM224 473h1v1h-1zM352 473h1v1h-1zM480 473h1v1h-1zM95 474h1v1h-1zM224 474h1v1h-1zM352 474h1v1h-1zM480 474h1v1h-1zM95 475h1v1h-1zM224 475h1v1h-1zM352 475h1v1h-1zM480 475h1v1h-1zM95 476h1v1h-1zM224 476h1v1h-1zM352 476h1v1h-1zM480 476h1v1h-1zM95 477h1v1h-1zM224 477h1v1h-1zM352 477h1v1h-1zM480 477h1v1h-1zM95 478h1v1h-1zM224 478h1v1h-1zM352 478h1v1h-1zM480 478h1v1h-1zM95 479h1v1h-1zM224 479h1v1h-1zM352 479h1v1h-1zM480 479h1v1h-1zM95 480h1v1h-1zM224 480h1v1h-1zM352 480h1v1h-1zM480 480h1v1h-1zM95 481h1v1h-1zM224 481h1v1h-1zM352 481h1v1h-1zM480 481h1v1h-1zM95 482h1v1h-1zM224 482h1v1h-1zM352 482h1v1h-1zM480 482h1v1h-1zM95 483h1v1h-1zM224 483h1v1h-1zM352 483h1v1h-1zM480 483h1v1h-1zM95 484h1v1h-1zM224 484h1v1h-1zM352 484h1v1h-1zM480 484h1v1h-1zM95 485h1v1h-1zM224 485h1v1h-1zM352 485h1v1h-1zM480 485h1v1h-1zM95 486h1v1h-1zM224 486h1v1h-1zM352 486h1v1h-1zM480 486h1v1h-1zM95 487h1v1h-1zM224 487h1v1h-1zM352 487h1v1h-1zM480 487h1v1h-1zM95 488h1v1h-1zM224 488h1v1h-1zM352 488h1v1h-1zM480 488h1v1h-1zM95 489h1v1h-1zM224 489h1v1h-1zM352 489h1v1h-1zM480 489h1v1h-1zM95 490h1v1h-1zM224 490h1v1h-1zM352 490h1v1h-1zM480 490h1v1h-1zM95 491h1v1h-1zM224 491h1v1h-1zM352 491h1v1h-1zM480 491h1v1h-1zM95 492h1v1h-1zM480 492h1v1h-1z"/>
<path fill="#00ff00" d="M79 134h2v1h-2zM77 135h2v1h-2zM81 135h1v1h-1zM77 136h1v1h-1zM80 136h1v1h-1zM82 136h1v1h-1zM77 137h1v1h-1zM80 137h1v1h-1zM82 137h1v1h-1zM76 138h1v1h-1zM79 138h1v1h-1zM81 138h3v1h-3zM76 139h1v1h-1zM78 139h1v1h-1zM81 139h1v1h-1zM83 139h1v1h-1zM76 140h1v1h-1zM78 140h1v1h-1zM81 140h4v1h-4zM76 141h1v1h-1zM78 141h1v1h-1zM81 141h2v1h-2zM85 141h2v1h-2zM76 142h1v1h-1zM78 142h1v1h-1zM81 142h2v1h-2zM85 142h2v1h-2zM76 143h2v1h-2zM81 143h1v1h-1zM85 143h1v1h-1zM78 144h1v1h-1zM80 144h2v1h-2zM85 144h1v1h-1zM78 145h3v1h-3zM85 145h1v1h-1zM75 146h1v1h-1zM79 146h2v1h-2zM84 146h1v1h-1zM75 147h2v1h-2zM79 147h3v1h-3zM83 147h1v1h-1zM76 148h2v1h-2zM83 148h1v1h-1zM78 149h2v1h-2zM81 149h3v1h-3zM80 150h1v1h-1zM327 153h8v1h-8zM319 154h8v1h-8zM334 154h2v1h-2zM316 155h6v1h-6zM335 155h1v1h-1zM303 156h4v1h-4zM311 156h6v1h-6zM336 156h2v1h-2zM302 157h2v1h-2zM306 157h3v1h-3zM310 157h3v1h-3zM336 157h3v1h-3zM302 158h2v1h-2zM308 158h2v1h-2zM337 158h2v1h-2zM303 159h2v1h-2zM338 159h2v1h-2zM304 160h1v1h-1zM339 160h2v1h-2zM305 161h2v1h-2zM339 161h2v1h-2zM306 162h2v1h-2zM340 162h2v1h-2zM307 163h2v1h-2zM341 163h1v1h-1zM308 164h3v1h-3zM341 164h1v1h-1zM310 165h2v1h-2zM341 165h1v1h-1zM311 166h1v1h-1zM341 166h2v1h-2zM312 167h2v1h-2zM342 167h1v1h-1zM312 168h3v1h-3zM343 168h1v1h-1zM314 169h2v1h-2zM341 169h2v1h-2zM315 170h1v1h-1zM341 170h1v1h-1zM315 171h1v1h-1zM340 171h2v1h-2zM315 172h2v1h-2zM340 172h1v1h-1zM316 173h1v1h-1zM333 173h2v1h-2zM339 173h2v1h-2zM316 174h3v1h-3zM330 174h1v1h-1zM332 174h2v1h-2zM335 174h1v1h-1zM340 174h1v1h-1zM361 174h4v1h-4zM318 175h2v1h-2zM322 175h8v1h-8zM331 175h2v1h-2zM335 175h2v1h-2zM340 175h1v1h-1zM358 175h3v1h-3zM365 175h2v1h-2zM319 176h4v1h-4zM324 176h1v1h-1zM336 176h5v1h-5zM351 176h8v1h-8zM366 176h2v1h-2zM350 177h2v1h-2zM356 177h3v1h-3zM367 177h3v1h-3zM345 178h3v1h-3zM349 178h7v1h-7zM370 178h2v1h-2zM345 179h1v1h-1zM347 179h3v1h-3zM372 179h2v1h-2zM345 180h3v1h-3zM349 180h2v1h-2zM373 180h5v1h-5zM347 181h2v1h-2zM377 181h5v1h-5zM347 182h3v1h-3zM381 182h2v1h-2zM348 183h1v1h-1zM350 183h3v1h-3zM382 183h1v1h-1zM349 184h6v1h-6zM382 184h2v1h-2zM351 185h6v1h-6zM382 185h6v1h-6zM355 186h3v1h-3zM382 186h2v1h-2zM386 186h4v1h-4zM356 187h3v1h-3zM388 187h3v1h-3zM357 188h3v1h-3zM389 188h2v1h-2zM358 189h8v1h-8zM390 189h2v1h-2zM359 190h2v1h-2zM365 190h3v1h-3zM390 190h2v1h-2zM367 191h3v1h-3zM390 191h2v1h-2zM368 192h12v1h-12zM383 192h3v1h-3zM387 192h2v1h-2zM390 192h1v1h-1zM369 193h2v1h-2zM380 193h4v1h-4zM386 193h5v1h-5zM439 207h10v1h-10zM438 208h1v1h-1zM445 208h4v1h-4zM432 209h7v1h-7zM440 209h5v1h-5zM448 209h2v1h-2zM431 210h2v1h-2zM440 210h1v1h-1zM448 210h2v1h-2zM430 211h2v1h-2zM438 211h2v1h-2zM430 212h3v1h-3zM438 212h1v1h-1zM433 213h2v1h-2zM437 213h2v1h-2zM434 214h4v1h-4zM435 215h2v1h-2zM117 294h1v1h-1zM114 295h5v1h-5zM113 296h2v1h-2zM118 296h1v1h-1zM113 297h1v1h-1zM118 297h1v1h-1zM113 298h2v1h-2zM117 298h1v1h-1zM114 299h3v1h-3zM240 319h2v1h-2zM238 320h4v1h-4zM238 321h1v1h-1zM240 321h2v1h-2zM238 322h3v1h-3zM212 466h2v1h-2zM210 467h5v1h-5zM209 468h1v1h-1zM211 468h3v1h-3zM209 469h3v1h-3z"/>
<path fill="#804000" d="M25 139h1v1h-1zM26 140h3v1h-3zM29 141h4v1h-4zM33 142h5v1h-5zM38 143h4v1h-4zM42 144h3v1h-3zM45 145h1v1h-1zM46 146h1v1h-1zM47 147h1v1h-1zM48 148h1v1h-1zM49 149h1v1h-1zM50 150h1v1h-1zM51 151h1v1h-1zM52 152h1v1h-1zM53 153h1v1h-1zM54 154h1v1h-1zM55 155h1v1h-1zM56 156h1v1h-1zM57 157h1v1h-1zM58 158h1v1h-1zM59 159h1v1h-1zM60 160h1v1h-1zM61 161h1v1h-1zM62 162h1v1h-1zM63 163h1v1h-1zM64 164h1v1h-1zM65 165h1v1h-1zM66 166h1v1h-1zM67 167h1v1h-1zM68 168h1v1h-1zM69 169h2v1h-2zM71 170h1v1h-1zM72 171h1v1h-1zM73 172h1v1h-1zM74 173h1v1h-1zM75 174h1v1h-1zM76 175h1v1h-1zM77 176h1v1h-1zM78 177h1v1h-1zM79 178h1v1h-1zM80 179h2v1h-2zM82 180h2v1h-2zM84 181h2v1h-2zM86 182h1v1h-1zM87 183h2v1h-2zM89 184h2v1h-2zM91 185h2v1h-2zM93 186h1v1h-1zM94 187h2v1h-2zM96 188h2v1h-2zM98 189h2v1h-2zM100 190h1v1h-1zM101 191h2v1h-2zM103 192h2v1h-2zM105 193h1v1h-1zM106 194h2v1h-2zM108 195h2v1h-2zM110 196h1v1h-1zM111 197h1v1h-1zM112 198h1v1h-1zM113 199h1v1h-1zM114 200h1v1h-1zM115 201h1v1h-1zM116 202h1v1h-1zM117 203h1v1h-1zM118 204h1v1h-1zM119 205h1v1h-1zM120 206h2v1h-2zM122 207h1v1h-1zM123 208h1v1h-1zM124 209h1v1h-1zM125 210h1v1h-1zM126 211h1v1h-1zM127 212h1v1h-1zM128 213h1v1h-1zM154 213h15v1h-15zM129 214h1v1h-1zM145 214h9v1h-9zM169 214h11v1h-11zM130 215h1v1h-1zM136 215h9v1h-9zM180 215h11v1h-11zM131 216h5v1h-5zM191 216h11v1h-11zM202 217h11v1h-11zM213 218h11v1h-11zM224 219h11v1h-11zM235 220h11v1h-11zM246 221h11v1h-11zM257 222h6v1h-6zM263 223h2v1h-2zM265 224h1v1h-1zM266 225h1v1h-1zM267 226h2v1h-2zM269 227h1v1h-1zM270 228h2v1h-2zM272 229h1v1h-1zM273 230h1v1h-1zM274 231h2v1h-2zM276 232h1v1h-1zM277 233h1v1h-1zM278 234h2v1h-2zM280 235h1v1h-1zM281 236h2v1h-2zM283 237h1v1h-1zM284 238h1v1h-1zM285 239h2v1h-2zM287 240h1v1h-1zM288 241h2v1h-2zM290 242h1v1h-1zM291 243h1v1h-1zM292 244h2v1h-2zM294 245h1v1h-1zM295 246h1v1h-1zM296 247h2v1h-2zM298 248h1v1h-1zM299 249h1v1h-1zM300 250h1v1h-1zM301 251h1v1h-1zM301 252h1v1h-1zM302 253h1v1h-1zM303 254h1v1h-1zM304 255h1v1h-1zM305 256h1v1h-1zM306 257h1v1h-1zM307 258h1v1h-1zM307 259h1v1h-1zM308 260h1v1h-1zM309 261h1v1h-1zM310 262h1v1h-1zM311 263h1v1h-1zM312 264h1v1h-1zM313 265h1v1h-1zM313 266h1v1h-1zM314 267h1v1h-1zM315 268h1v1h-1zM316 269h1v1h-1zM317 270h1v1h-1zM318 271h1v1h-1zM319 272h1v1h-1zM320 273h1v1h-1zM320 274h1v1h-1zM321 275h1v1h-1zM322 276h1v1h-1zM323 277h1v1h-1zM324 278h1v1h-1zM325 279h1v1h-1zM326 280h1v1h-1zM326 281h1v1h-1zM327 282h1v1h-1zM328 283h1v1h-1zM329 284h1v1h-1zM329 285h1v1h-1zM330 286h1v1h-1zM330 287h1v1h-1zM331 288h1v1h-1zM331 289h1v1h-1zM332 290h1v1h-1zM332 291h1v1h-1zM333 292h1v1h-1zM333 293h1v1h-1zM334 294h1v1h-1zM334 295h1v1h-1zM335 296h1v1h-1zM335 297h1v1h-1zM336 298h1v1h-1zM336 299h1v1h-1zM337 300h1v1h-1zM337 301h1v1h-1zM338 302h1v1h-1zM338 303h1v1h-1zM339 304h1v1h-1zM339 305h1v1h-1zM340 306h1v1h-1zM340 307h1v1h-1zM341 308h1v1h-1zM341 309h1v1h-1zM342 310h1v1h-1zM342 311h1v1h-1zM342 312h1v1h-1zM342 313h1v1h-1zM342 314h1v1h-1zM342 315h1v1h-1zM342 316h1v1h-1zM342 317h1v1h-1zM342 318h1v1h-1zM342 319h1v1h-1zM342 320h1v1h-1zM342 321h1v1h-1zM342 322h1v1h-1zM342 323h1v1h-1zM343 324h1v1h-1zM343 325h1v1h-1zM343 326h1v1h-1zM343 327h1v1h-1zM343 328h1v1h-1zM343 329h1v1h-1zM343 330h1v1h-1zM343 331h1v1h-1zM343 332h1v1h-1zM343 333h1v1h-1zM343 334h1v1h-1zM343 335h1v1h-1zM343 336h1v1h-1zM343 337h1v1h-1zM343 338h1v1h-1zM343 339h1v1h-1zM343 340h1v1h-1zM343 341h1v1h-1zM343 342h1v1h-1zM343 343h1v1h-1zM343 344h1v1h-1zM343 345h1v1h-1zM343 346h1v1h-1zM343 347h1v1h-1zM343 348h1v1h-1zM343 349h1v1h-1zM343 350h1v1h-1zM343 351h1v1h-1zM343 352h1v1h-1zM343 353h1v1h-1zM343 354h1v1h-1zM343 355h1v1h-1zM343 356h1v1h-1zM343 357h1v1h-1zM343 358h1v1h-1zM343 359h1v1h-1zM343 360h1v1h-1zM343 361h1v1h-1zM343 362h1v1h-1zM343 363h1v1h-1zM343 364h1v1h-1zM343 365h1v1h-1zM343 366h1v1h-1zM343 367h1v1h-1zM343 368h1v1h-1zM343 369h1v1h-1zM343 370h1v1h-1zM343 371h1v1h-1zM343 372h1v1h-1zM343 373h1v1h-1zM343 374h1v1h-1zM343 375h1v1h-1zM343 376h1v1h-1zM343 377h1v1h-1zM343 378h1v1h-1zM343 379h1v1h-1zM342 380h1v1h-1zM342 381h1v1h-1zM342 382h1v1h-1zM342 383h1v1h-1zM341 384h1v1h-1zM341 385h1v1h-1zM341 386h1v1h-1zM341 387h1v1h-1zM340 388h1v1h-1zM340 389h1v1h-1zM340 390h1v1h-1zM340 391h1v1h-1zM339 392h1v1h-1zM339 393h1v1h-1zM339 394h1v1h-1zM338 395h1v1h-1zM338 396h1v1h-1zM338 397h1v1h-1zM338 398h1v1h-1zM337 399h1v1h-1zM337 400h1v1h-1zM337 401h1v1h-1zM337 402h1v1h-1zM336 403h1v1h-1zM336 404h1v1h-1zM336 405h1v1h-1zM336 406h1v1h-1zM335 407h1v1h-1zM335 408h1v1h-1zM335 409h1v1h-1zM335 410h1v1h-1zM334 411h1v1h-1zM334 412h1v1h-1zM334 413h1v1h-1zM333 414h1v1h-1zM333 415h1v1h-1zM333 416h1v1h-1zM333 417h1v1h-1zM332 418h1v1h-1zM332 419h1v1h-1zM332 420h1v1h-1zM332 421h1v1h-1zM331 422h1v1h-1zM331 423h1v1h-1zM331 424h1v1h-1zM331 425h1v1h-1zM330 426h1v1h-1zM330 427h1v1h-1zM330 428h1v1h-1zM329 429h1v1h-1zM329 430h1v1h-1zM329 431h1v1h-1zM329 432h1v1h-1zM328 433h1v1h-1zM328 434h1v1h-1zM328 435h1v1h-1zM328 436h1v1h-1zM327 437h1v1h-1zM327 438h1v1h-1zM327 439h1v1h-1zM327 440h1v1h-1zM326 441h1v1h-1zM326 442h1v1h-1zM326 443h1v1h-1zM325 444h1v1h-1zM325 445h1v1h-1zM325 446h1v1h-1zM325 447h1v1h-1zM324 448h1v1h-1zM324 449h1v1h-1zM324 450h1v1h-1zM324 451h1v1h-1zM323 452h1v1h-1zM323 453h1v1h-1zM323 454h1v1h-1zM323 455h1v1h-1zM322 456h1v1h-1zM322 457h1v1h-1zM322 458h1v1h-1zM321 459h1v1h-1zM321 460h1v1h-1zM321 461h1v1h-1zM321 462h1v1h-1zM320 463h1v1h-1zM320 464h1v1h-1zM320 465h1v1h-1zM320 466h1v1h-1zM319 467h1v1h-1zM319 468h1v1h-1zM319 469h1v1h-1zM319 470h1v1h-1zM318 471h1v1h-1zM318 472h1v1h-1zM318 473h1v1h-1zM318 474h1v1h-1zM317 475h1v1h-1zM317 476h1v1h-1zM317 477h1v1h-1zM316 478h1v1h-1zM316 479h1v1h-1zM316 480h1v1h-1zM316 481h1v1h-1zM315 482h1v1h-1zM315 483h1v1h-1zM315 484h1v1h-1zM315 485h1v1h-1zM314 486h1v1h-1zM314 487h1v1h-1zM314 488h1v1h-1zM314 489h1v1h-1zM313 490h1v1h-1zM313 491h1v1h-1z"/>
<path fill="#000" d="M255 54h67v1h-67zM110 55h145v1h-145zM322 55h145v1h-145zM43 56h67v1h-67zM467 56h66v1h-66zM23 57h20v1h-20zM533 57h21v1h-21zM23 58h1v1h-1zM553 58h1v1h-1zM23 59h1v1h-1zM553 59h1v1h-1zM23 60h1v1h-1zM553 60h1v1h-1zM23 61h1v1h-1zM553 61h1v1h-1zM23 62h1v1h-1zM553 62h1v1h-1zM23 63h1v1h-1zM553 63h1v1h-1zM23 64h1v1h-1zM553 64h1v1h-1zM23 65h1v1h-1zM553 65h1v1h-1zM23 66h1v1h-1zM553 66h1v1h-1zM23 67h1v1h-1zM553 67h1v1h-1zM23 68h1v1h-1zM553 68h1v1h-1zM23 69h1v1h-1zM553 69h1v1h-1zM23 70h1v1h-1zM553 70h1v1h-1zM23 71h1v1h-1zM553 71h1v1h-1zM23 72h1v1h-1zM553 72h1v1h-1zM23 73h1v1h-1zM553 73h1v1h-1zM23 74h1v1h-1zM553 74h1v1h-1zM23 75h1v1h-1zM553 75h1v1h-1zM23 76h1v1h-1zM553 76h1v1h-1zM23 77h1v1h-1zM553 77h1v1h-1zM23 78h1v1h-1zM553 78h1v1h-1zM23 79h1v1h-1zM553 79h1v1h-1zM23 80h1v1h-1zM553 80h1v1h-1zM23 81h1v1h-1zM553 81h1v1h-1zM23 82h1v1h-1zM553 82h1v1h-1zM23 83h1v1h-1zM553 83h1v1h-1zM23 84h1v1h-1zM553 84h1v1h-1zM24 85h1v1h-1zM552 85h1v1h-1zM24 86h1v1h-1zM552 86h1v1h-1zM24 87h1v1h-1zM552 87h1v1h-1zM24 88h1v1h-1zM552 88h1v1h-1zM24 89h1v1h-1zM552 89h1v1h-1zM24 90h1v1h-1zM552 90h1v1h-1zM24 91h1v1h-1zM552 91h1v1h-1zM24 92h1v1h-1zM552 92h1v1h-1zM24 93h1v1h-1zM552 93h1v1h-1zM24 94h1v1h-1zM552 94h1v1h-1zM24 95h1v1h-1zM552 95h1v1h-1zM24 96h1v1h-1zM552 96h1v1h-1zM24 97h1v1h-1zM552 97h1v1h-1zM24 98h1v1h-1zM552 98h1v1h-1zM24 99h1v1h-1zM552 99h1v1h-1zM24 100h1v1h-1zM552 100h1v1h-1zM24 101h1v1h-1zM552 101h1v1h-1zM24 102h1v1h-1zM552 102h1v1h-1zM24 103h1v1h-1zM552 103h1v1h-1zM24 104h1v1h-1zM552 104h1v1h-1zM24 105h1v1h-1zM552 105h1v1h-1zM24 106h1v1h-1zM552 106h1v1h-1zM24 107h1v1h-1zM552 107h1v1h-1zM24 108h1v1h-1zM552 108h1v1h-1zM24 109h1v1h-1zM552 109h1v1h-1zM24 110h1v1h-1zM552 110h1v1h-1zM24 111h1v1h-1zM552 111h1v1h-1zM24 112h1v1h-1zM552 112h1v1h-1zM24 113h1v1h-1zM552 113h1v1h-1zM24 114h1v1h-1zM552 114h1v1h-1zM24 115h1v1h-1zM552 115h1v1h-1zM24 116h1v1h-1zM552 116h1v1h-1zM24 117h1v1h-1zM552 117h1v1h-1zM24 118h1v1h-1zM552 118h1v1h-1zM24 119h1v1h-1zM552 119h1v1h-1zM24 120h1v1h-1zM552 120h1v1h-1zM24 121h1v1h-1zM552 121h1v1h-1zM24 122h1v1h-1zM552 122h1v1h-1zM24 123h1v1h-1zM552 123h1v1h-1zM24 124h1v1h-1zM552 124h1v1h-1zM24 125h1v1h-1zM552 125h1v1h-1zM24 126h1v1h-1zM552 126h1v1h-1zM24 127h1v1h-1zM552 127h1v1h-1zM24 128h1v1h-1zM552 128h1v1h-1zM24 129h1v1h-1zM552 129h1v1h-1zM24 130h1v1h-1zM552 130h1v1h-1zM24 131h1v1h-1zM552 131h1v1h-1zM24 132h1v1h-1zM552 132h1v1h-1zM24 133h1v1h-1zM552 133h1v1h-1zM24 134h1v1h-1zM552 134h1v1h-1zM24 135h1v1h-1zM552 135h1v1h-1zM24 136h1v1h-1zM552 136h1v1h-1zM24 137h1v1h-1zM552 137h1v1h-1zM24 138h1v1h-1zM552 138h1v1h-1zM25 139h1v1h-1zM551 139h1v1h-1zM25 140h1v1h-1zM551 140h1v1h-1zM25 141h1v1h-1zM551 141h1v1h-1zM25 142h1v1h-1zM551 142h1v1h-1zM25 143h1v1h-1zM551 143h1v1h-1zM25 144h1v1h-1zM551 144h1v1h-1zM25 145h1v1h-1zM551 145h1v1h-1zM25 146h1v1h-1zM551 146h1v1h-1zM25 147h1v1h-1zM551 147h1v1h-1zM25 148h1v1h-1zM551 148h1v1h-1zM25 149h1v1h-1zM551 149h1v1h-1zM25 150h1v1h-1zM551 150h1v1h-1zM25 151h1v1h-1zM551 151h1v1h-1zM25 152h1v1h-1zM551 152h1v1h-1zM25 153h1v1h-1zM551 153h1v1h-1zM25 154h1v1h-1zM551 154h1v1h-1zM25 155h1v1h-1zM551 155h1v1h-1zM25 156h1v1h-1zM551 156h1v1h-1zM25 157h1v1h-1zM551 157h1v1h-1zM25 158h1v1h-1zM551 158h1v1h-1zM25 159h1v1h-1zM551 159h1v1h-1zM25 160h1v1h-1zM551 160h1v1h-1zM25 161h1v1h-1zM551 161h1v1h-1zM25 162h1v1h-1zM551 162h1v1h-1zM25 163h1v1h-1zM551 163h1v1h-1zM25 164h1v1h-1zM551 164h1v1h-1zM25 165h1v1h-1zM551 165h1v1h-1zM25 166h1v1h-1zM551 166h1v1h-1zM25 167h1v1h-1zM551 167h1v1h-1zM25 168h1v1h-1zM551 168h1v1h-1zM25 169h1v1h-1zM551 169h1v1h-1zM25 170h1v1h-1zM551 170h1v1h-1zM25 171h1v1h-1zM551 171h1v1h-1zM25 172h1v1h-1zM551 172h1v1h-1zM25 173h1v1h-1zM551 173h1v1h-1zM25 174h1v1h-1zM551 174h1v1h-1zM25 175h1v1h-1zM551 175h1v1h-1zM25 176h1v1h-1zM551 176h1v1h-1zM25 177h1v1h-1zM551 177h1v1h-1zM25 178h1v1h-1zM551 178h1v1h-1zM25 179h1v1h-1zM551 179h1v1h-1zM25 180h1v1h-1zM551 180h1v1h-1zM25 181h1v1h-1zM551 181h1v1h-1zM25 182h1v1h-1zM551 182h1v1h-1zM25 183h1v1h-1zM551 183h1v1h-1zM25 184h1v1h-1zM551 184h1v1h-1zM25 185h1v1h-1zM551 185h1v1h-1zM25 186h1v1h-1zM551 186h1v1h-1zM25 187h1v1h-1zM551 187h1v1h-1zM25 188h1v1h-1zM551 188h1v1h-1zM25 189h1v1h-1zM551 189h1v1h-1zM25 190h1v1h-1zM551 190h1v1h-1zM25 191h1v1h-1zM551 191h1v1h-1zM25 192h1v1h-1zM551 192h1v1h-1zM25 193h1v1h-1zM551 193h1v1h-1zM26 194h1v1h-1zM550 194h1v1h-1zM26 195h1v1h-1zM550 195h1v1h-1zM26 196h1v1h-1zM550 196h1v1h-1zM26 197h1v1h-1zM550 197h1v1h-1zM26 198h1v1h-1zM550 198h1v1h-1zM26 199h1v1h-1zM550 199h1v1h-1zM26 200h1v1h-1zM550 200h1v1h-1zM26 201h1v1h-1zM550 201h1v1h-1zM26 202h1v1h-1zM550 202h1v1h-1zM26 203h1v1h-1zM550 203h1v1h-1zM26 204h1v1h-1zM550 204h1v1h-1zM26 205h1v1h-1zM550 205h1v1h-1zM26 206h1v1h-1zM550 206h1v1h-1zM26 207h1v1h-1zM550 207h1v1h-1zM26 208h1v1h-1zM550 208h1v1h-1zM26 209h1v1h-1zM550 209h1v1h-1zM26 210h1v1h-1zM550 210h1v1h-1zM26 211h1v1h-1zM550 211h1v1h-1zM26 212h1v1h-1zM550 212h1v1h-1zM26 213h1v1h-1zM550 213h1v1h-1zM26 214h1v1h-1zM550 214h1v1h-1zM26 215h1v1h-1zM550 215h1v1h-1zM26 216h1v1h-1zM550 216h1v1h-1zM26 217h1v1h-1zM550 217h1v1h-1zM26 218h1v1h-1zM550 218h1v1h-1zM26 219h1v1h-1zM550 219h1v1h-1zM26 220h1v1h-1zM550 220h1v1h-1zM26 221h1v1h-1zM550 221h1v1h-1zM26 222h1v1h-1zM550 222h1v1h-1zM26 223h1v1h-1zM550 223h1v1h-1zM26 224h1v1h-1zM550 224h1v1h-1zM26 225h1v1h-1zM550 225h1v1h-1zM26 226h1v1h-1zM550 226h1v1h-1zM26 227h1v1h-1zM550 227h1v1h-1zM26 228h1v1h-1zM550 228h1v1h-1zM26 229h1v1h-1zM550 229h1v1h-1zM26 230h1v1h-1zM550 230h1v1h-1zM26 231h1v1h-1zM550 231h1v1h-1zM26 232h1v1h-1zM550 232h1v1h-1zM26 233h1v1h-1zM550 233h1v1h-1zM26 234h1v1h-1zM550 234h1v1h-1zM26 235h1v1h-1zM550 235h1v1h-1zM26 236h1v1h-1zM550 236h1v1h-1zM26 237h1v1h-1zM550 237h1v1h-1zM26 238h1v1h-1zM550 238h1v1h-1zM26 239h1v1h-1zM550 239h1v1h-1zM26 240h1v1h-1zM550 240h1v1h-1zM26 241h1v1h-1zM550 241h1v1h-1zM26 242h1v1h-1zM550 242h1v1h-1zM26 243h1v1h-1zM550 243h1v1h-1zM26 244h1v1h-1zM550 244h1v1h-1zM26 245h1v1h-1zM550 245h1v1h-1zM26 246h1v1h-1zM550 246h1v1h-1zM26 247h1v1h-1zM550 247h1v1h-1zM27 248h1v1h-1zM549 248h1v1h-1zM27 249h1v1h-1zM549 249h1v1h-1zM27 250h1v1h-1zM549 250h1v1h-1zM27 251h1v1h-1zM549 251h1v1h-1zM27 252h1v1h-1zM549 252h1v1h-1zM27 253h1v1h-1zM549 253h1v1h-1zM27 254h1v1h-1zM549 254h1v1h-1zM27 255h1v1h-1zM549 255h1v1h-1zM27 256h1v1h-1zM549 256h1v1h-1zM27 257h1v1h-1zM549 257h1v1h-1zM27 258h1v1h-1zM549 258h1v1h-1zM27 259h1v1h-1zM549 259h1v1h-1zM27 260h1v1h-1zM549 260h1v1h-1zM27 261h1v1h-1zM549 261h1v1h-1zM27 262h1v1h-1zM549 262h1v1h-1zM27 263h1v1h-1zM549 263h1v1h-1zM27 264h1v1h-1zM549 264h1v1h-1zM27 265h1v1h-1zM549 265h1v1h-1zM27 266h1v1h-1zM549 266h1v1h-1zM27 267h1v1h-1zM549 267h1v1h-1zM27 268h1v1h-1zM549 268h1v1h-1zM27 269h1v1h-1zM549 269h1v1h-1zM27 270h1v1h-1zM549 270h1v1h-1zM27 271h1v1h-1zM549 271h1v1h-1zM27 272h1v1h-1zM549 272h1v1h-1zM27 273h1v1h-1zM549 273h1v1h-1zM27 274h1v1h-1zM549 274h1v1h-1zM27 275h1v1h-1zM549 275h1v1h-1zM27 276h1v1h-1zM549 276h1v1h-1zM27 277h1v1h-1zM549 277h1v1h-1zM27 278h1v1h-1zM549 278h1v1h-1zM27 279h1v1h-1zM549 279h1v1h-1zM27 280h1v1h-1zM549 280h1v1h-1zM27 281h1v1h-1zM549 281h1v1h-1zM27 282h1v1h-1zM549 282h1v1h-1zM27 283h1v1h-1zM549 283h1v1h-1zM27 284h1v1h-1zM549 284h1v1h-1zM27 285h1v1h-1zM549 285h1v1h-1zM27 286h1v1h-1zM549 286h1v1h-1zM27 287h1v1h-1zM549 287h1v1h-1zM27 288h1v1h-1zM549 288h1v1h-1zM27 289h1v1h-1zM549 289h1v1h-1zM27 290h1v1h-1zM549 290h1v1h-1zM27 291h1v1h-1zM549 291h1v1h-1zM27 292h1v1h-1zM549 292h1v1h-1zM27 293h1v1h-1zM549 293h1v1h-1zM27 294h1v1h-1zM549 294h1v1h-1zM27 295h1v1h-1zM549 295h1v1h-1zM27 296h1v1h-1zM549 296h1v1h-1zM27 297h1v1h-1zM549 297h1v1h-1zM27 298h1v1h-1zM549 298h1v1h-1zM27 299h1v1h-1zM549 299h1v1h-1zM27 300h1v1h-1zM549 300h1v1h-1zM27 301h1v1h-1zM549 301h1v1h-1zM27 302h1v1h-1zM549 302h1v1h-1zM28 303h1v1h-1zM548 303h1v1h-1zM28 304h1v1h-1zM548 304h1v1h-1zM28 305h1v1h-1zM548 305h1v1h-1zM28 306h1v1h-1zM548 306h1v1h-1zM28 307h1v1h-1zM548 307h1v1h-1zM28 308h1v1h-1zM548 308h1v1h-1zM28 309h1v1h-1zM548 309h1v1h-1zM28 310h1v1h-1zM548 310h1v1h-1zM28 311h1v1h-1zM548 311h1v1h-1zM28 312h1v1h-1zM548 312h1v1h-1zM28 313h1v1h-1zM548 313h1v1h-1zM28 314h1v1h-1zM548 314h1v1h-1zM28 315h1v1h-1zM548 315h1v1h-1zM28 316h1v1h-1zM548 316h1v1h-1zM28 317h1v1h-1zM548 317h1v1h-1zM28 318h1v1h-1zM548 318h1v1h-1zM28 319h1v1h-1zM548 319h1v1h-1zM28 320h1v1h-1zM548 320h1v1h-1zM28 321h1v1h-1zM548 321h1v1h-1zM28 322h1v1h-1zM548 322h1v1h-1zM28 323h1v1h-1zM548 323h1v1h-1zM28 324h1v1h-1zM548 324h1v1h-1zM28 325h1v1h-1zM548 325h1v1h-1zM28 326h1v1h-1zM548 326h1v1h-1zM28 327h1v1h-1zM548 327h1v1h-1zM28 328h1v1h-1zM548 328h1v1h-1zM28 329h1v1h-1zM548 329h1v1h-1zM28 330h1v1h-1zM548 330h1v1h-1zM28 331h1v1h-1zM548 331h1v1h-1zM28 332h1v1h-1zM548 332h1v1h-1zM28 333h1v1h-1zM548 333h1v1h-1zM28 334h1v1h-1zM548 334h1v1h-1zM28 335h1v1h-1zM548 335h1v1h-1zM28 336h1v1h-1zM548 336h1v1h-1zM28 337h1v1h-1zM548 337h1v1h-1zM28 338h1v1h-1zM548 338h1v1h-1zM28 339h1v1h-1zM548 339h1v1h-1zM28 340h1v1h-1zM548 340h1v1h-1zM28 341h1v1h-1zM548 341h1v1h-1zM28 342h1v1h-1zM548 342h1v1h-1zM28 343h1v1h-1zM548 343h1v1h-1zM28 344h1v1h-1zM548 344h1v1h-1zM28 345h1v1h-1zM548 345h1v1h-1zM28 346h1v1h-1zM548 346h1v1h-1zM28 347h1v1h-1zM548 347h1v1h-1zM28 348h1v1h-1zM548 348h1v1h-1zM28 349h1v1h-1zM548 349h1v1h-1zM28 350h1v1h-1zM548 350h1v1h-1zM28 351h1v1h-1zM548 351h1v1h-1zM28 352h1v1h-1zM548 352h1v1h-1zM28 353h1v1h-1zM548 353h1v1h-1zM28 354h1v1h-1zM548 354h1v1h-1zM28 355h1v1h-1zM548 355h1v1h-1zM28 356h1v1h-1zM548 356h1v1h-1zM29 357h1v1h-1zM547 357h1v1h-1zM29 358h1v1h-1zM547 358h1v1h-1zM29 359h1v1h-1zM547 359h1v1h-1zM29 360h1v1h-1zM547 360h1v1h-1zM29 361h1v1h-1zM547 361h1v1h-1zM29 362h1v1h-1zM547 362h1v1h-1zM29 363h1v1h-1zM547 363h1v1h-1zM29 364h1v1h-1zM547 364h1v1h-1zM29 365h1v1h-1zM547 365h1v1h-1zM29 366h1v1h-1zM547 366h1v1h-1zM29 367h1v1h-1zM547 367h1v1h-1zM29 368h1v1h-1zM547 368h1v1h-1zM29 369h1v1h-1zM547 369h1v1h-1zM29 370h1v1h-1zM547 370h1v1h-1zM29 371h1v1h-1zM547 371h1v1h-1zM29 372h1v1h-1zM547 372h1v1h-1zM29 373h1v1h-1zM547 373h1v1h-1zM29 374h1v1h-1zM547 374h1v1h-1zM29 375h1v1h-1zM547 375h1v1h-1zM29 376h1v1h-1zM547 376h1v1h-1zM29 377h1v1h-1zM547 377h1v1h-1zM29 378h1v1h-1zM547 378h1v1h-1zM29 379h1v1h-1zM547 379h1v1h-1zM29 380h1v1h-1zM547 380h1v1h-1zM29 381h1v1h-1zM547 381h1v1h-1zM29 382h1v1h-1zM547 382h1v1h-1zM29 383h1v1h-1zM547 383h1v1h-1zM29 384h1v1h-1zM547 384h1v1h-1zM29 385h1v1h-1zM547 385h1v1h-1zM29 386h1v1h-1zM547 386h1v1h-1zM29 387h1v1h-1zM547 387h1v1h-1zM29 388h1v1h-1zM547 388h1v1h-1zM29 389h1v1h-1zM547 389h1v1h-1zM29 390h1v1h-1zM547 390h1v1h-1zM29 391h1v1h-1zM547 391h1v1h-1zM29 392h1v1h-1zM547 392h1v1h-1zM29 393h1v1h-1zM547 393h1v1h-1zM29 394h1v1h-1zM547 394h1v1h-1zM29 395h1v1h-1zM547 395h1v1h-1zM29 396h1v1h-1zM547 396h1v1h-1zM29 397h1v1h-1zM547 397h1v1h-1zM29 398h1v1h-1zM547 398h1v1h-1zM29 399h1v1h-1zM547 399h1v1h-1zM29 400h1v1h-1zM547 400h1v1h-1zM29 401h1v1h-1zM547 401h1v1h-1zM29 402h1v1h-1zM547 402h1v1h-1zM29 403h1v1h-1zM547 403h1v1h-1zM29 404h1v1h-1zM547 404h1v1h-1zM29 405h1v1h-1zM547 405h1v1h-1zM29 406h1v1h-1zM547 406h1v1h-1zM29 407h1v1h-1zM547 407h1v1h-1zM29 408h1v1h-1zM547 408h1v1h-1zM29 409h1v1h-1zM547 409h1v1h-1zM29 410h1v1h-1zM547 410h1v1h-1zM29 411h1v1h-1zM547 411h1v1h-1zM30 412h1v1h-1zM546 412h1v1h-1zM30 413h1v1h-1zM546 413h1v1h-1zM30 414h1v1h-1zM546 414h1v1h-1zM30 415h1v1h-1zM546 415h1v1h-1zM30 416h1v1h-1zM546 416h1v1h-1zM30 417h1v1h-1zM546 417h1v1h-1zM30 418h1v1h-1zM546 418h1v1h-1zM30 419h1v1h-1zM546 419h1v1h-1zM30 420h1v1h-1zM546 420h1v1h-1zM30 421h1v1h-1zM546 421h1v1h-1zM30 422h1v1h-1zM546 422h1v1h-1zM30 423h1v1h-1zM546 423h1v1h-1zM30 424h1v1h-1zM546 424h1v1h-1zM607 424h9v1h-9zM30 425h1v1h-1zM546 425h1v1h-1zM607 425h1v1h-1zM30 426h1v1h-1zM546 426h1v1h-1zM607 426h1v1h-1zM30 427h1v1h-1zM546 427h1v1h-1zM607 427h1v1h-1zM30 428h1v1h-1zM546 428h1v1h-1zM607 428h1v1h-1zM30 429h1v1h-1zM546 429h1v1h-1zM607 429h1v1h-1zM30 430h1v1h-1zM546 430h1v1h-1zM607 430h1v1h-1zM30 431h1v1h-1zM546 431h1v1h-1zM607 431h1v1h-1zM30 432h1v1h-1zM546 432h1v1h-1zM607 432h1v1h-1zM30 433h1v1h-1zM546 433h1v1h-1zM607 433h1v1h-1zM30 434h1v1h-1zM546 434h1v1h-1zM607 434h1v1h-1zM30 435h1v1h-1zM546 435h1v1h-1zM607 435h1v1h-1zM30 436h1v1h-1zM546 436h1v1h-1zM607 436h1v1h-1zM30 437h1v1h-1zM546 437h1v1h-1zM607 437h1v1h-1zM30 438h1v1h-1zM546 438h1v1h-1zM607 438h1v1h-1zM30 439h1v1h-1zM546 439h1v1h-1zM607 439h1v1h-1zM30 440h1v1h-1zM546 440h1v1h-1zM607 440h1v1h-1zM30 441h1v1h-1zM546 441h1v1h-1zM607 441h1v1h-1zM30 442h1v1h-1zM546 442h1v1h-1zM607 442h1v1h-1zM30 443h1v1h-1zM546 443h1v1h-1zM607 443h1v1h-1zM30 444h1v1h-1zM546 444h1v1h-1zM607 444h1v1h-1zM30 445h1v1h-1zM546 445h1v1h-1zM607 445h1v1h-1zM30 446h1v1h-1zM546 446h1v1h-1zM607 446h1v1h-1zM30 447h1v1h-1zM546 447h1v1h-1zM607 447h1v1h-1zM30 448h1v1h-1zM546 448h1v1h-1zM607 448h5v1h-5zM30 449h1v1h-1zM546 449h1v1h-1zM607 449h1v1h-1zM30 450h1v1h-1zM546 450h1v1h-1zM607 450h1v1h-1zM30 451h1v1h-1zM546 451h1v1h-1zM607 451h1v1h-1zM30 452h1v1h-1zM546 452h1v1h-1zM607 452h1v1h-1zM30 453h1v1h-1zM546 453h1v1h-1zM607 453h1v1h-1zM30 454h1v1h-1zM546 454h1v1h-1zM607 454h1v1h-1zM30 455h1v1h-1zM546 455h1v1h-1zM607 455h1v1h-1zM30 456h1v1h-1zM546 456h1v1h-1zM607 456h1v1h-1zM30 457h1v1h-1zM546 457h1v1h-1zM607 457h1v1h-1zM30 458h1v1h-1zM546 458h1v1h-1zM607 458h1v1h-1zM30 459h1v1h-1zM546 459h1v1h-1zM607 459h1v1h-1zM30 460h1v1h-1zM546 460h1v1h-1zM607 460h1v1h-1zM30 461h1v1h-1zM546 461h1v1h-1zM607 461h1v1h-1zM30 462h1v1h-1zM546 462h1v1h-1zM607 462h1v1h-1zM30 463h1v1h-1zM546 463h1v1h-1zM607 463h1v1h-1zM30 464h1v1h-1zM546 464h1v1h-1zM607 464h1v1h-1zM30 465h1v1h-1zM546 465h1v1h-1zM607 465h1v1h-1zM31 466h1v1h-1zM545 466h1v1h-1zM607 466h1v1h-1zM31 467h1v1h-1zM545 467h1v1h-1zM607 467h1v1h-1zM31 468h1v1h-1zM545 468h1v1h-1zM607 468h1v1h-1zM31 469h1v1h-1zM545 469h1v1h-1zM607 469h1v1h-1zM31 470h1v1h-1zM545 470h1v1h-1zM607 470h1v1h-1zM31 471h1v1h-1zM545 471h1v1h-1zM607 471h1v1h-1zM31 472h1v1h-1zM545 472h1v1h-1zM607 472h10v1h-10zM31 473h1v1h-1zM545 473h1v1h-1zM31 474h1v1h-1zM545 474h1v1h-1zM31 475h1v1h-1zM545 475h1v1h-1zM31 476h1v1h-1zM545 476h1v1h-1zM31 477h1v1h-1zM545 477h1v1h-1zM31 478h1v1h-1zM545 478h1v1h-1zM31 479h1v1h-1zM545 479h1v1h-1zM31 480h1v1h-1zM545 480h1v1h-1zM31 481h1v1h-1zM545 481h1v1h-1zM31 482h1v1h-1zM545 482h1v1h-1zM31 483h1v1h-1zM545 483h1v1h-1zM31 484h1v1h-1zM545 484h1v1h-1zM31 485h1v1h-1zM545 485h1v1h-1zM31 486h1v1h-1zM545 486h1v1h-1zM31 487h1v1h-1zM545 487h1v1h-1zM31 488h1v1h-1zM545 488h1v1h-1zM31 489h1v1h-1zM545 489h1v1h-1zM31 490h1v1h-1zM545 490h1v1h-1zM31 491h1v1h-1zM141 491h295v1h-295zM545 491h1v1h-1zM31 492h1v1h-1zM64 492h77v1h-77zM436 492h77v1h-77zM545 492h1v1h-1zM31 493h33v1h-33zM513 493h33v1h-33z"/>
<path fill="#ff0000" d="M621 129h7v1h-7zM619 130h3v1h-3zM627 130h3v1h-3zM617 131h3v1h-3zM623 131h9v1h-9zM616 132h2v1h-2zM620 132h13v1h-13zM615 133h1v1h-1zM618 133h16v1h-16zM614 134h2v1h-2zM617 134h10v1h-10zM630 134h5v1h-5zM614 135h1v1h-1zM616 135h11v1h-11zM631 135h4v1h-4zM613 136h1v1h-1zM615 136h12v1h-12zM633 136h3v1h-3zM613 137h14v1h-14zM634 137h2v1h-2zM612 138h15v1h-15zM634 138h3v1h-3zM612 139h15v1h-15zM635 139h2v1h-2zM612 140h15v1h-15zM635 140h2v1h-2zM612 141h15v1h-15zM636 141h1v1h-1zM612 142h15v1h-15zM636 142h1v1h-1zM612 143h6v1h-6zM619 143h7v1h-7zM636 143h1v1h-1zM612 144h14v1h-14zM635 144h2v1h-2zM613 145h13v1h-13zM630 145h2v1h-2zM635 145h1v1h-1zM613 146h13v1h-13zM630 146h1v1h-1zM635 146h1v1h-1zM614 147h11v1h-11zM634 147h1v1h-1zM614 148h11v1h-11zM633 148h2v1h-2zM615 149h9v1h-9zM633 149h1v1h-1zM616 150h8v1h-8zM631 150h2v1h-2zM617 151h7v1h-7zM630 151h2v1h-2zM619 152h4v1h-4zM627 152h3v1h-3zM621 153h7v1h-7zM621 154h7v1h-7zM619 155h3v1h-3zM626 155h4v1h-4zM618 156h2v1h-2zM622 156h9v1h-9zM617 157h2v1h-2zM620 157h12v1h-12zM616 158h11v1h-11zM628 158h5v1h-5zM616 159h10v1h-10zM629 159h4v1h-4zM615 160h11v1h-11zM631 160h3v1h-3zM615 161h11v1h-11zM632 161h2v1h-2zM615 162h11v1h-11zM633 162h1v1h-1zM615 163h11v1h-11zM633 163h1v1h-1zM615 164h11v1h-11zM633 164h1v1h-1zM615 165h11v1h-11zM633 165h1v1h-1zM615 166h10v1h-10zM629 166h1v1h-1zM632 166h2v1h-2zM616 167h9v1h-9zM629 167h1v1h-1zM632 167h1v1h-1zM616 168h8v1h-8zM631 168h2v1h-2zM617 169h7v1h-7zM630 169h2v1h-2zM618 170h6v1h-6zM629 170h2v1h-2zM619 171h5v1h-5zM627 171h3v1h-3zM621 172h7v1h-7z"/>
<path fill="#ff0000" d="M590 215h6v1h-6zM589 216h1v1h-1zM594 216h3v1h-3zM588 217h10v1h-10zM587 218h8v1h-8zM597 218h2v1h-2zM586 219h9v1h-9zM598 219h2v1h-2zM586 220h8v1h-8zM598 220h2v1h-2zM586 221h8v1h-8zM599 221h1v1h-1zM586 222h8v1h-8zM599 222h1v1h-1zM586 223h8v1h-8zM596 223h1v1h-1zM599 223h1v1h-1zM587 224h7v1h-7zM596 224h1v1h-1zM598 224h1v1h-1zM587 225h6v1h-6zM597 225h2v1h-2zM588 226h5v1h-5zM596 226h2v1h-2zM590 227h6v1h-6z"/>
<path fill="#ff00ff" d="M590 229h6v1h-6zM589 230h1v1h-1zM594 230h3v1h-3zM588 231h10v1h-10zM587 232h8v1h-8zM597 232h2v1h-2zM586 233h9v1h-9zM598 233h2v1h-2zM586 234h8v1h-8zM598 234h2v1h-2zM586 235h8v1h-8zM599 235h1v1h-1zM586 236h8v1h-8zM599 236h1v1h-1zM586 237h8v1h-8zM596 237h1v1h-1zM599 237h1v1h-1zM587 238h7v1h-7zM596 238h1v1h-1zM598 238h1v1h-1zM587 239h6v1h-6zM597 239h2v1h-2zM588 240h5v1h-5zM596 240h2v1h-2zM590 241h6v1h-6z"/>
<path fill="#800080" d="M590 243h6v1h-6zM589 244h1v1h-1zM594 244h3v1h-3zM588 245h10v1h-10zM587 246h8v1h-8zM597 246h2v1h-2zM586 247h9v1h-9zM598 247h2v1h-2zM586 248h8v1h-8zM598 248h2v1h-2zM586 249h8v1h-8zM599 249h1v1h-1zM586 250h8v1h-8zM599 250h1v1h-1zM586 251h8v1h-8zM599 251h1v1h-1zM586 252h8v1h-8zM596 252h1v1h-1zM599 252h1v1h-1zM587 253h7v1h-7zM596 253h1v1h-1zM598 253h1v1h-1zM587 254h6v1h-6zM597 254h2v1h-2zM588 255h5v1h-5zM596 255h2v1h-2zM590 256h6v1h-6z"/>
<g font-family="'Liberation Serif', 'Times New Roman', serif" font-size="13.33px" fill="#000" stroke="#000" stroke-width="0.2" text-rendering="geometricPrecision" shape-rendering="auto">
<text y="18" ><tspan x="195.15" textLength="28.41" lengthAdjust="spacing">1962</tspan> <tspan x="227.15" textLength="17.33" lengthAdjust="spacing">1/1</tspan> <tspan x="249.2" textLength="10.5" lengthAdjust="spacing">0:</tspan> <tspan x="262.9">0</tspan> <tspan x="274.1" textLength="9.3" lengthAdjust="spacing">--</tspan> <tspan x="287.7" textLength="27.71" lengthAdjust="spacing">2009</tspan> <tspan x="320.05" textLength="24.4" lengthAdjust="spacing">10/2</tspan> <tspan x="349.7" textLength="30.36" lengthAdjust="spacing">23:59</tspan></text>
<text x="4.55" textLength="17.18" lengthAdjust="spacing" y="61" >-12</text>
<text x="6.4" textLength="16.63" lengthAdjust="spacing" y="196" >-14</text>
<text x="9.4" textLength="16.98" lengthAdjust="spacing" y="330" >-16</text>
<text x="11.4" textLength="17.13" lengthAdjust="spacing" y="464" >-18</text>
<text x="83.5" textLength="23.14" lengthAdjust="spacing" y="507" >-176</text>
<text x="212.4" textLength="22.64" lengthAdjust="spacing" y="506" >-174</text>
<text x="340.4" textLength="23.19" lengthAdjust="spacing" y="506" >-172</text>
<text x="468.4" textLength="23.14" lengthAdjust="spacing" y="507" >-170</text>
<text y="98" ><tspan x="588.55">M</tspan> <tspan x="604.0">:</tspan> <tspan x="609.25">7</tspan> <tspan x="618.05" textLength="22.56" lengthAdjust="spacing">&lt;=&gt;</tspan> <tspan x="642.8" textLength="15.97" lengthAdjust="spacing">8.9</tspan></text>
<text x="617.85" y="121" >M</text>
<text x="594.1" y="147" >8</text>
<text x="593.85" y="168" >7</text>
<text x="607.75" textLength="40.7" lengthAdjust="spacing" y="196" >DEPTH</text>
<text x="631.8" textLength="21.1" lengthAdjust="spacing" y="219" >0km</text>
<text x="625.8" textLength="27.16" lengthAdjust="spacing" y="233" >30km</text>
<text x="625.8" textLength="27.16" lengthAdjust="spacing" y="247" >60km</text>
<text x="625.8" textLength="27.16" lengthAdjust="spacing" y="261" >90km</text>
<text x="631.5" y="428" >0</text>
<text x="626.3" textLength="12.08" lengthAdjust="spacing" y="477" >80</text>
<text x="622.65" textLength="15.68" lengthAdjust="spacing" y="493" >km</text>
<text y="509" ><tspan x="597.75" textLength="15.41" lengthAdjust="spacing">N=</tspan> <tspan x="616.25">5</tspan></text>
<text y="540" font-style="italic" fill="#808080" stroke="#808080" stroke-width="0.15"><tspan x="615.7" textLength="6.38" lengthAdjust="spacing">||</tspan> <tspan x="624.75" textLength="42.54" lengthAdjust="spacing">SEIS-PC</tspan> <tspan x="669.9" textLength="6.78" lengthAdjust="spacing">||</tspan></text>
</g>
</svg>
</body></html>
